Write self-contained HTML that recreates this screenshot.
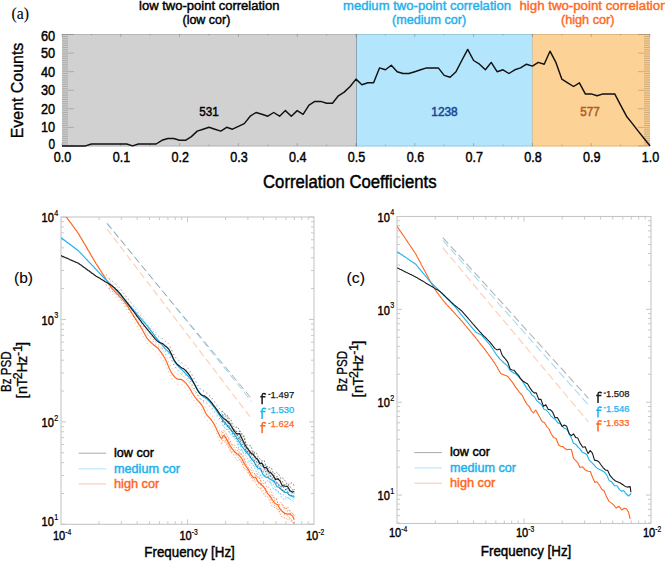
<!DOCTYPE html>
<html><head><meta charset="utf-8"><style>
html,body{margin:0;padding:0;background:#fff;overflow:hidden;}
svg{display:block;}
text{font-family:"Liberation Sans",sans-serif;}
</style></head><body>
<svg width="665" height="561" viewBox="0 0 665 561">
<rect x="62" y="34" width="294" height="112.6" fill="#d1d1d1"/>
<rect x="356" y="34" width="176.4" height="112.6" fill="#b3e5fc"/>
<rect x="532.4" y="34" width="117.6" height="112.6" fill="#fdd296"/>
<line x1="356.5" y1="34" x2="356.5" y2="146.6" stroke="#8ba3af" stroke-width="1"/>
<line x1="532.4" y1="34" x2="532.4" y2="146.6" stroke="#c9c2a8" stroke-width="1"/>
<line x1="62" y1="34.5" x2="650" y2="34.5" stroke="#000" stroke-opacity="0.12" stroke-width="1"/>
<line x1="62" y1="146" x2="650" y2="146" stroke="#000" stroke-opacity="0.12" stroke-width="1"/>
<path d="M62,145.90h12 M650,145.90h-12 M62,144.04h6 M650,144.04h-6 M62,142.19h6 M650,142.19h-6 M62,140.33h6 M650,140.33h-6 M62,138.48h6 M650,138.48h-6 M62,136.62h6 M650,136.62h-6 M62,134.76h6 M650,134.76h-6 M62,132.91h6 M650,132.91h-6 M62,131.05h6 M650,131.05h-6 M62,129.20h6 M650,129.20h-6 M62,127.34h12 M650,127.34h-12 M62,125.48h6 M650,125.48h-6 M62,123.63h6 M650,123.63h-6 M62,121.77h6 M650,121.77h-6 M62,119.92h6 M650,119.92h-6 M62,118.06h6 M650,118.06h-6 M62,116.20h6 M650,116.20h-6 M62,114.35h6 M650,114.35h-6 M62,112.49h6 M650,112.49h-6 M62,110.64h6 M650,110.64h-6 M62,108.78h12 M650,108.78h-12 M62,106.92h6 M650,106.92h-6 M62,105.07h6 M650,105.07h-6 M62,103.21h6 M650,103.21h-6 M62,101.36h6 M650,101.36h-6 M62,99.50h6 M650,99.50h-6 M62,97.64h6 M650,97.64h-6 M62,95.79h6 M650,95.79h-6 M62,93.93h6 M650,93.93h-6 M62,92.08h6 M650,92.08h-6 M62,90.22h12 M650,90.22h-12 M62,88.36h6 M650,88.36h-6 M62,86.51h6 M650,86.51h-6 M62,84.65h6 M650,84.65h-6 M62,82.80h6 M650,82.80h-6 M62,80.94h6 M650,80.94h-6 M62,79.08h6 M650,79.08h-6 M62,77.23h6 M650,77.23h-6 M62,75.37h6 M650,75.37h-6 M62,73.52h6 M650,73.52h-6 M62,71.66h12 M650,71.66h-12 M62,69.80h6 M650,69.80h-6 M62,67.95h6 M650,67.95h-6 M62,66.09h6 M650,66.09h-6 M62,64.24h6 M650,64.24h-6 M62,62.38h6 M650,62.38h-6 M62,60.52h6 M650,60.52h-6 M62,58.67h6 M650,58.67h-6 M62,56.81h6 M650,56.81h-6 M62,54.96h6 M650,54.96h-6 M62,53.10h12 M650,53.10h-12 M62,51.24h6 M650,51.24h-6 M62,49.39h6 M650,49.39h-6 M62,47.53h6 M650,47.53h-6 M62,45.68h6 M650,45.68h-6 M62,43.82h6 M650,43.82h-6 M62,41.96h6 M650,41.96h-6 M62,40.11h6 M650,40.11h-6 M62,38.25h6 M650,38.25h-6 M62,36.40h6 M650,36.40h-6 M62,34.54h12 M650,34.54h-12" stroke="#000" stroke-opacity="0.2" stroke-width="0.9" fill="none"/>
<path d="M62.00,34h0v3 M62.00,146v-3 M91.40,34h0v1.5 M91.40,146v-1.5 M120.80,34h0v3 M120.80,146v-3 M150.20,34h0v1.5 M150.20,146v-1.5 M179.60,34h0v3 M179.60,146v-3 M209.00,34h0v1.5 M209.00,146v-1.5 M238.40,34h0v3 M238.40,146v-3 M267.80,34h0v1.5 M267.80,146v-1.5 M297.20,34h0v3 M297.20,146v-3 M326.60,34h0v1.5 M326.60,146v-1.5 M356.00,34h0v3 M356.00,146v-3 M385.40,34h0v1.5 M385.40,146v-1.5 M414.80,34h0v3 M414.80,146v-3 M444.20,34h0v1.5 M444.20,146v-1.5 M473.60,34h0v3 M473.60,146v-3 M503.00,34h0v1.5 M503.00,146v-1.5 M532.40,34h0v3 M532.40,146v-3 M561.80,34h0v1.5 M561.80,146v-1.5 M591.20,34h0v3 M591.20,146v-3 M620.60,34h0v1.5 M620.60,146v-1.5 M650.00,34h0v3 M650.00,146v-3" stroke="#000" stroke-opacity="0.2" stroke-width="1" fill="none"/>
<path d="M62.0,145.9 L67.9,145.9 L73.8,145.9 L79.6,145.9 L85.5,145.9 L91.4,144.0 L97.3,144.0 L103.2,144.0 L109.0,144.0 L114.9,144.0 L120.8,144.0 L126.7,144.0 L132.6,145.9 L138.4,144.0 L144.3,144.0 L150.2,144.0 L156.1,144.0 L162.0,140.3 L167.8,138.5 L173.7,138.5 L179.6,140.3 L185.5,140.3 L191.4,136.6 L197.2,131.1 L203.1,129.2 L209.0,127.3 L214.9,129.2 L220.8,131.1 L226.6,127.3 L232.5,129.2 L238.4,126.4 L244.3,123.6 L250.2,116.2 L256.0,112.5 L261.9,114.3 L267.8,116.2 L273.7,112.5 L279.6,116.2 L285.4,110.6 L291.3,116.2 L297.2,110.6 L303.1,114.3 L309.0,105.1 L314.8,101.4 L320.7,101.4 L326.6,103.2 L332.5,103.2 L338.4,95.8 L344.2,92.1 L350.1,86.5 L356.0,79.1 L361.9,84.7 L367.8,82.8 L373.6,82.8 L379.5,67.9 L385.4,69.8 L391.3,65.2 L397.2,71.7 L403.0,73.5 L408.9,73.5 L414.8,71.7 L420.7,69.8 L426.6,67.9 L432.4,67.9 L438.3,67.9 L444.2,75.4 L450.1,77.2 L456.0,71.7 L461.8,60.5 L467.7,49.4 L473.6,60.5 L479.5,64.2 L485.4,69.8 L491.2,62.4 L497.1,71.7 L503.0,69.8 L508.9,73.5 L514.8,69.8 L520.6,67.9 L526.5,64.2 L532.4,66.1 L538.3,62.4 L544.2,64.2 L550.0,51.2 L555.9,62.4 L561.8,79.1 L567.7,82.8 L573.6,86.5 L579.4,82.8 L585.3,93.9 L591.2,93.9 L597.1,95.8 L603.0,93.9 L608.8,93.9 L614.7,93.9 L620.6,105.1 L626.5,116.2 L632.4,123.6 L638.2,131.1 L644.1,138.5 L650.0,145.9" fill="none" stroke="#111" stroke-width="1.45" stroke-linejoin="round"/>
<text x="11.5" y="18.5" font-size="16" fill="#000" stroke="#000" stroke-width="0.1" textLength="17.5" lengthAdjust="spacingAndGlyphs" style="font-family:'Liberation Serif', serif;">(a)</text>
<text x="139" y="9.6" font-size="13.2" fill="#000" stroke="#000" stroke-width="0.45" textLength="140.5" lengthAdjust="spacingAndGlyphs" style="">low two-point correlation</text>
<text x="182.5" y="23.6" font-size="13.2" fill="#000" stroke="#000" stroke-width="0.45" textLength="47.8" lengthAdjust="spacingAndGlyphs" style="">(low cor)</text>
<text x="343" y="9.6" font-size="13.2" fill="#1fb1ee" stroke="#1fb1ee" stroke-width="0.45" textLength="168" lengthAdjust="spacingAndGlyphs" style="">medium two-point correlation</text>
<text x="392" y="23.6" font-size="13.2" fill="#1fb1ee" stroke="#1fb1ee" stroke-width="0.45" textLength="74.2" lengthAdjust="spacingAndGlyphs" style="">(medium cor)</text>
<text x="519.5" y="9.6" font-size="13.2" fill="#ff6a1f" stroke="#ff6a1f" stroke-width="0.45" textLength="148" lengthAdjust="spacingAndGlyphs" style="">high two-point correlation</text>
<text x="561" y="23.6" font-size="13.2" fill="#ff6a1f" stroke="#ff6a1f" stroke-width="0.45" textLength="53.5" lengthAdjust="spacingAndGlyphs" style="">(high cor)</text>
<text x="55.2" y="148.9" font-size="14.4" fill="#000" stroke="#000" stroke-width="0.45" textLength="6.6" lengthAdjust="spacingAndGlyphs" text-anchor="end" style="">0</text>
<text x="55.2" y="132.24" font-size="14.4" fill="#000" stroke="#000" stroke-width="0.45" textLength="14.2" lengthAdjust="spacingAndGlyphs" text-anchor="end" style="">10</text>
<text x="55.2" y="113.68" font-size="14.4" fill="#000" stroke="#000" stroke-width="0.45" textLength="14.2" lengthAdjust="spacingAndGlyphs" text-anchor="end" style="">20</text>
<text x="55.2" y="95.12" font-size="14.4" fill="#000" stroke="#000" stroke-width="0.45" textLength="14.2" lengthAdjust="spacingAndGlyphs" text-anchor="end" style="">30</text>
<text x="55.2" y="76.56" font-size="14.4" fill="#000" stroke="#000" stroke-width="0.45" textLength="14.2" lengthAdjust="spacingAndGlyphs" text-anchor="end" style="">40</text>
<text x="55.2" y="57.99999999999999" font-size="14.4" fill="#000" stroke="#000" stroke-width="0.45" textLength="14.2" lengthAdjust="spacingAndGlyphs" text-anchor="end" style="">50</text>
<text x="55.2" y="41.199999999999996" font-size="14.4" fill="#000" stroke="#000" stroke-width="0.45" textLength="14.2" lengthAdjust="spacingAndGlyphs" text-anchor="end" style="">60</text>
<text x="62.6" y="161.6" font-size="15.2" fill="#000" stroke="#000" stroke-width="0.45" textLength="17.5" lengthAdjust="spacingAndGlyphs" text-anchor="middle" style="">0.0</text>
<text x="121.4" y="161.6" font-size="15.2" fill="#000" stroke="#000" stroke-width="0.45" textLength="17.5" lengthAdjust="spacingAndGlyphs" text-anchor="middle" style="">0.1</text>
<text x="180.20000000000002" y="161.6" font-size="15.2" fill="#000" stroke="#000" stroke-width="0.45" textLength="17.5" lengthAdjust="spacingAndGlyphs" text-anchor="middle" style="">0.2</text>
<text x="239.0" y="161.6" font-size="15.2" fill="#000" stroke="#000" stroke-width="0.45" textLength="17.5" lengthAdjust="spacingAndGlyphs" text-anchor="middle" style="">0.3</text>
<text x="297.80000000000007" y="161.6" font-size="15.2" fill="#000" stroke="#000" stroke-width="0.45" textLength="17.5" lengthAdjust="spacingAndGlyphs" text-anchor="middle" style="">0.4</text>
<text x="356.6" y="161.6" font-size="15.2" fill="#000" stroke="#000" stroke-width="0.45" textLength="17.5" lengthAdjust="spacingAndGlyphs" text-anchor="middle" style="">0.5</text>
<text x="415.40000000000003" y="161.6" font-size="15.2" fill="#000" stroke="#000" stroke-width="0.45" textLength="17.5" lengthAdjust="spacingAndGlyphs" text-anchor="middle" style="">0.6</text>
<text x="474.2" y="161.6" font-size="15.2" fill="#000" stroke="#000" stroke-width="0.45" textLength="17.5" lengthAdjust="spacingAndGlyphs" text-anchor="middle" style="">0.7</text>
<text x="533.0000000000001" y="161.6" font-size="15.2" fill="#000" stroke="#000" stroke-width="0.45" textLength="17.5" lengthAdjust="spacingAndGlyphs" text-anchor="middle" style="">0.8</text>
<text x="591.8000000000001" y="161.6" font-size="15.2" fill="#000" stroke="#000" stroke-width="0.45" textLength="17.5" lengthAdjust="spacingAndGlyphs" text-anchor="middle" style="">0.9</text>
<text x="650.6" y="161.6" font-size="15.2" fill="#000" stroke="#000" stroke-width="0.45" textLength="17.5" lengthAdjust="spacingAndGlyphs" text-anchor="middle" style="">1.0</text>
<text x="263" y="188.2" font-size="17.5" fill="#000" stroke="#000" stroke-width="0.45" textLength="173.5" lengthAdjust="spacingAndGlyphs" style="">Correlation Coefficients</text>
<text x="0" y="0" font-size="17.4" fill="#000" stroke="#000" stroke-width="0.35" textLength="95.6" lengthAdjust="spacingAndGlyphs" transform="translate(23.0,138.3) rotate(-90)">Event Counts</text>
<text x="199.3" y="116.2" font-size="12.8" fill="#000" stroke="#000" stroke-width="0.45" textLength="19.5" lengthAdjust="spacingAndGlyphs" style="">531</text>
<text x="431.3" y="115.8" font-size="13.2" fill="#184892" stroke="#184892" stroke-width="0.55" textLength="26.4" lengthAdjust="spacingAndGlyphs" style="">1238</text>
<text x="580.3" y="115.8" font-size="13" fill="#ad5a26" stroke="#ad5a26" stroke-width="0.5" textLength="19.6" lengthAdjust="spacingAndGlyphs" style="">577</text>
<clipPath id="clipb"><rect x="61" y="217" width="253" height="307.29999999999995"/></clipPath>
<rect x="61" y="217" width="253" height="307.29999999999995" fill="none" stroke="#c6c6c6" stroke-width="1.1"/>
<path d="M99.08,524.3v-3M99.08,217v3M121.36,524.3v-3M121.36,217v3M137.16,524.3v-3M137.16,217v3M149.42,524.3v-3M149.42,217v3M159.44,524.3v-3M159.44,217v3M167.90,524.3v-3M167.90,217v3M175.24,524.3v-3M175.24,217v3M181.71,524.3v-3M181.71,217v3M187.50,524.3v-5M187.50,217v5M225.58,524.3v-3M225.58,217v3M247.86,524.3v-3M247.86,217v3M263.66,524.3v-3M263.66,217v3M275.92,524.3v-3M275.92,217v3M285.94,524.3v-3M285.94,217v3M294.40,524.3v-3M294.40,217v3M301.74,524.3v-3M301.74,217v3M308.21,524.3v-3M308.21,217v3M61,524.30h5M314,524.30h-5M61,493.46h3M314,493.46h-3M61,475.43h3M314,475.43h-3M61,462.63h3M314,462.63h-3M61,452.70h3M314,452.70h-3M61,444.59h3M314,444.59h-3M61,437.73h3M314,437.73h-3M61,431.79h3M314,431.79h-3M61,426.55h3M314,426.55h-3M61,421.87h5M314,421.87h-5M61,391.03h3M314,391.03h-3M61,372.99h3M314,372.99h-3M61,360.20h3M314,360.20h-3M61,350.27h3M314,350.27h-3M61,342.16h3M314,342.16h-3M61,335.30h3M314,335.30h-3M61,329.36h3M314,329.36h-3M61,324.12h3M314,324.12h-3M61,319.43h5M314,319.43h-5M61,288.60h3M314,288.60h-3M61,270.56h3M314,270.56h-3M61,257.76h3M314,257.76h-3M61,247.84h3M314,247.84h-3M61,239.72h3M314,239.72h-3M61,232.87h3M314,232.87h-3M61,226.93h3M314,226.93h-3M61,221.69h3M314,221.69h-3M61,217.00h5M314,217.00h-5" stroke="#c8c8c8" stroke-width="1" fill="none"/>
<text x="41.6" y="525.9" font-size="13.7" fill="#000" stroke="#000" stroke-width="0.45" textLength="12.3" lengthAdjust="spacingAndGlyphs" style="">10</text>
<text x="54.3" y="519.4999999999999" font-size="8.5" fill="#000" stroke="#000" stroke-width="0.2" textLength="4.0" lengthAdjust="spacingAndGlyphs" style="">1</text>
<text x="41.6" y="427.0666666666666" font-size="13.7" fill="#000" stroke="#000" stroke-width="0.45" textLength="12.3" lengthAdjust="spacingAndGlyphs" style="">10</text>
<text x="54.3" y="420.66666666666663" font-size="8.5" fill="#000" stroke="#000" stroke-width="0.2" textLength="4.0" lengthAdjust="spacingAndGlyphs" style="">2</text>
<text x="41.6" y="324.63333333333327" font-size="13.7" fill="#000" stroke="#000" stroke-width="0.45" textLength="12.3" lengthAdjust="spacingAndGlyphs" style="">10</text>
<text x="54.3" y="318.2333333333333" font-size="8.5" fill="#000" stroke="#000" stroke-width="0.2" textLength="4.0" lengthAdjust="spacingAndGlyphs" style="">3</text>
<text x="41.6" y="222.2" font-size="13.7" fill="#000" stroke="#000" stroke-width="0.45" textLength="12.3" lengthAdjust="spacingAndGlyphs" style="">10</text>
<text x="54.3" y="215.8" font-size="8.5" fill="#000" stroke="#000" stroke-width="0.2" textLength="4.0" lengthAdjust="spacingAndGlyphs" style="">4</text>
<text x="52.9" y="540.2" font-size="13.7" fill="#000" stroke="#000" stroke-width="0.45" textLength="12.3" lengthAdjust="spacingAndGlyphs" style="">10</text>
<text x="65.3" y="535.0" font-size="8.5" fill="#000" stroke="#000" stroke-width="0.2" textLength="6" lengthAdjust="spacingAndGlyphs" style="">-4</text>
<text x="179.4" y="540.2" font-size="13.7" fill="#000" stroke="#000" stroke-width="0.45" textLength="12.3" lengthAdjust="spacingAndGlyphs" style="">10</text>
<text x="191.8" y="535.0" font-size="8.5" fill="#000" stroke="#000" stroke-width="0.2" textLength="6" lengthAdjust="spacingAndGlyphs" style="">-3</text>
<text x="305.9" y="540.2" font-size="13.7" fill="#000" stroke="#000" stroke-width="0.45" textLength="12.3" lengthAdjust="spacingAndGlyphs" style="">10</text>
<text x="318.3" y="535.0" font-size="8.5" fill="#000" stroke="#000" stroke-width="0.2" textLength="6" lengthAdjust="spacingAndGlyphs" style="">-2</text>
<text x="144.3" y="557.2" font-size="14.5" fill="#000" stroke="#000" stroke-width="0.45" textLength="90.5" lengthAdjust="spacingAndGlyphs" style="">Frequency [Hz]</text>
<g clip-path="url(#clipb)">
<path d="M107.0,229.0 L251.7,419.0" fill="none" stroke="#fdcdb4" stroke-width="1.1" stroke-dasharray="7.1,3.8"/>
<path d="M107.0,222.6 L251.7,401.6" fill="none" stroke="#8fd0ee" stroke-width="0.95" stroke-dasharray="7.1,3.8"/>
<path d="M107.0,223.7 L251.7,398.9" fill="none" stroke="#9aa6ac" stroke-width="0.95" stroke-dasharray="7.1,3.8"/>
<path d="M106.1,274.3 L106.7,275.3 L107.2,276.3 L107.8,277.3 L108.3,278.2 L108.9,279.2 L109.4,280.2 L110.0,281.2 L110.5,281.7 L111.0,282.3 L111.5,283.0 L112.1,283.6 L112.8,284.3 L113.5,285.0 L114.2,285.7 L114.9,286.5 L115.7,287.3 L116.4,288.1 L117.2,288.9 L118.0,289.7 L118.8,290.5 L119.5,291.3 L120.3,292.1 L121.1,292.9 L121.8,293.7 L122.5,294.5 L123.2,295.2 L123.8,296.0 L124.4,296.7 L125.0,297.4 L125.7,298.3 L126.4,299.2 L127.0,300.1 L127.6,301.0 L128.2,301.9 L128.7,302.8 L129.2,303.6 L129.7,304.5 L130.2,305.3 L130.7,306.1 L131.2,307.0 L131.7,307.8 L132.2,308.7 L132.7,309.5 L133.2,310.3 L133.7,311.2 L134.3,312.1 L134.8,313.0 L135.4,313.8 L136.0,314.7 L136.5,315.7 L137.1,316.6 L137.7,317.5 L138.3,318.4 L138.8,319.3 L139.4,320.1 L140.0,321.0 L140.5,321.8 L141.0,322.6 L141.5,323.4 L142.0,324.2 L142.4,324.9 L143.0,326.0 L143.6,327.0 L144.1,328.0 L144.6,328.9 L145.1,329.7 L145.5,330.5 L145.9,331.3 L146.4,332.1 L146.9,332.9 L147.4,333.6 L148.1,334.5 L148.9,335.4 L149.7,336.2 L150.5,337.0 L151.3,337.7 L152.1,338.4 L152.9,339.1 L153.6,339.8 L154.5,340.6 L155.3,341.2 L156.1,341.8 L156.9,342.4 L157.7,343.2 L158.6,344.2 L159.1,344.8 L159.7,345.5 L160.3,346.3 L160.9,347.1 L161.5,347.9 L162.1,348.8 L162.7,349.7 L163.3,350.6 L163.9,351.5 L164.4,352.5 L165.0,353.5 L165.4,354.3 L165.9,355.2 L166.3,356.1 L166.7,357.1 L167.1,358.0 L167.5,359.0 L167.9,360.0 L168.3,361.0 L168.7,362.0 L169.1,362.9 L169.5,363.9 L169.9,364.7 L170.3,365.5 L170.7,366.3 L171.3,367.4 L172.0,368.4 L172.6,369.3 L173.2,370.2 L173.9,371.0 L174.5,371.7 L175.1,372.4 L175.8,373.0 L176.4,373.5 L177.5,374.1 L178.7,374.3 L179.8,374.3 L181.0,374.4 L182.1,374.9 L182.8,375.4 L183.5,375.9 L184.2,376.5 L184.9,377.1 L185.6,377.9 L186.3,378.7 L187.0,379.6 L187.8,380.6 L188.3,381.3 L188.8,382.1 L189.3,382.9 L189.9,383.8 L190.4,384.7 L191.0,385.6 L191.5,386.6 L192.1,387.6 L192.7,388.5 L193.2,389.5 L193.8,390.3 L194.4,391.2 L194.9,392.0 L195.6,392.9 L196.2,393.7 L196.9,394.5 L197.6,395.3 L198.3,396.1 L199.0,396.8 L199.6,397.5 L200.3,398.3 L200.9,399.0 L201.5,399.7 L202.0,400.5 L202.6,401.5 L203.1,402.5 L203.6,403.5 L204.1,404.5 L204.5,405.5 L205.0,406.5 L205.4,407.4 L205.8,408.3 L206.3,409.1 L207.0,410.1 L207.7,411.0 L208.5,411.8 L209.2,412.5 L209.9,413.2 L210.6,414.1 L211.2,414.9 L211.7,415.6 L212.3,416.3 L212.8,417.1 L213.4,418.0 L214.0,419.1 L214.7,420.3 L215.1,421.0 L215.5,421.9 L216.0,422.9 L216.5,423.9 L216.9,425.0 L217.4,426.1 L218.0,427.2 L218.5,428.3 L219.0,429.4 L219.4,430.4 L219.9,431.2 L220.3,432.0 L220.7,432.6 L221.1,433.1 L222.0,433.2 L222.6,431.9 L223.3,430.6 L224.3,430.7 L224.7,431.2 L225.2,431.8 L225.7,432.6 L226.3,433.4 L226.8,434.4 L227.5,435.5 L228.1,436.6 L228.7,437.7 L229.3,438.8 L229.9,439.9 L230.5,440.9 L231.0,441.9 L231.4,442.7 L231.8,443.4 L232.1,443.9 L232.1,443.9" fill="none" stroke="#ff6a28" stroke-width="0.9" stroke-dasharray="1,3" stroke-opacity="0.6"/>
<path d="M106.1,284.3 L106.7,285.3 L107.2,286.3 L107.8,287.3 L108.3,288.2 L108.9,289.2 L109.4,290.2 L110.0,291.2 L110.5,291.7 L111.0,292.3 L111.5,293.0 L112.1,293.6 L112.8,294.3 L113.5,295.0 L114.2,295.7 L114.9,296.5 L115.7,297.3 L116.4,298.1 L117.2,298.9 L118.0,299.7 L118.8,300.5 L119.5,301.3 L120.3,302.1 L121.1,302.9 L121.8,303.7 L122.5,304.5 L123.2,305.2 L123.8,306.0 L124.4,306.7 L125.0,307.4 L125.7,308.3 L126.4,309.2 L127.0,310.1 L127.6,311.0 L128.2,311.9 L128.7,312.8 L129.2,313.6 L129.7,314.5 L130.2,315.3 L130.7,316.1 L131.2,317.0 L131.7,317.8 L132.2,318.7 L132.7,319.5 L133.2,320.3 L133.7,321.2 L134.3,322.1 L134.8,323.0 L135.4,323.8 L136.0,324.7 L136.5,325.7 L137.1,326.6 L137.7,327.5 L138.3,328.4 L138.8,329.3 L139.4,330.1 L140.0,331.0 L140.5,331.8 L141.0,332.6 L141.5,333.4 L142.0,334.2 L142.4,334.9 L143.0,336.0 L143.6,337.0 L144.1,338.0 L144.6,338.9 L145.1,339.7 L145.5,340.5 L145.9,341.3 L146.4,342.1 L146.9,342.9 L147.4,343.6 L148.1,344.5 L148.9,345.4 L149.7,346.2 L150.5,347.0 L151.3,347.7 L152.1,348.4 L152.9,349.1 L153.6,349.8 L154.5,350.6 L155.3,351.2 L156.1,351.8 L156.9,352.4 L157.7,353.2 L158.6,354.2 L159.1,354.8 L159.7,355.5 L160.3,356.3 L160.9,357.1 L161.5,357.9 L162.1,358.8 L162.7,359.7 L163.3,360.6 L163.9,361.5 L164.4,362.5 L165.0,363.5 L165.4,364.3 L165.9,365.2 L166.3,366.1 L166.7,367.1 L167.1,368.0 L167.5,369.0 L167.9,370.0 L168.3,371.0 L168.7,372.0 L169.1,372.9 L169.5,373.9 L169.9,374.7 L170.3,375.5 L170.7,376.3 L171.3,377.4 L172.0,378.4 L172.6,379.3 L173.2,380.2 L173.9,381.0 L174.5,381.7 L175.1,382.4 L175.8,383.0 L176.4,383.5 L177.5,384.1 L178.7,384.3 L179.8,384.3 L181.0,384.4 L182.1,384.9 L182.8,385.4 L183.5,385.9 L184.2,386.5 L184.9,387.1 L185.6,387.9 L186.3,388.7 L187.0,389.6 L187.8,390.6 L188.3,391.3 L188.8,392.1 L189.3,392.9 L189.9,393.8 L190.4,394.7 L191.0,395.6 L191.5,396.6 L192.1,397.6 L192.7,398.5 L193.2,399.5 L193.8,400.3 L194.4,401.2 L194.9,402.0 L195.6,402.9 L196.2,403.7 L196.9,404.5 L197.6,405.3 L198.3,406.1 L199.0,406.8 L199.6,407.5 L200.3,408.3 L200.9,409.0 L201.5,409.7 L202.0,410.5 L202.6,411.5 L203.1,412.5 L203.6,413.5 L204.1,414.5 L204.5,415.5 L205.0,416.5 L205.4,417.4 L205.8,418.3 L206.3,419.1 L207.0,420.1 L207.7,421.0 L208.5,421.8 L209.2,422.5 L209.9,423.2 L210.6,424.1 L211.2,424.9 L211.7,425.6 L212.3,426.3 L212.8,427.1 L213.4,428.0 L214.0,429.1 L214.7,430.3 L215.1,431.0 L215.5,431.9 L216.0,432.9 L216.5,433.9 L216.9,435.0 L217.4,436.1 L218.0,437.2 L218.5,438.3 L219.0,439.4 L219.4,440.4 L219.9,441.2 L220.3,442.0 L220.7,442.6 L221.1,443.1 L222.0,443.2 L222.6,441.9 L223.3,440.6 L224.3,440.7 L224.7,441.2 L225.2,441.8 L225.7,442.6 L226.3,443.4 L226.8,444.4 L227.5,445.5 L228.1,446.6 L228.7,447.7 L229.3,448.8 L229.9,449.9 L230.5,450.9 L231.0,451.9 L231.4,452.7 L231.8,453.4 L232.1,453.9 L232.1,453.9" fill="none" stroke="#ff6a28" stroke-width="0.9" stroke-dasharray="1,3" stroke-opacity="0.6"/>
<path d="M221.1,432.3 L223.1,430.1 L224.7,431.9 L226.0,433.8 L227.6,436.9 L229.3,439.1 L231.0,443.4 L232.9,445.0 L234.5,444.8 L236.1,447.6 L237.7,447.1 L239.3,452.5 L240.6,454.3 L242.2,454.0 L243.8,456.6 L245.4,461.9 L247.0,461.4 L249.0,464.0 L250.9,466.6 L252.8,469.8 L254.3,472.8 L255.7,476.1 L257.2,473.4 L258.6,478.8 L260.0,478.2 L261.3,481.7 L263.2,483.8 L265.0,482.7 L266.8,487.7 L268.6,487.3 L270.0,488.4 L271.8,492.9 L273.7,497.6 L275.0,498.2 L276.4,497.8 L277.8,502.8 L279.3,504.7 L280.9,502.3 L282.4,504.6 L283.9,506.7 L285.8,509.6 L287.6,506.6 L289.2,510.2 L290.9,513.8 L292.5,513.5 L293.9,515.5 L294.3,514.8" fill="none" stroke="#ff6a28" stroke-width="0.8" stroke-dasharray="1.6,1.6" stroke-opacity="0.75"/>
<path d="M221.1,435.8 L223.1,432.0 L224.7,434.9 L226.0,437.0 L227.6,438.6 L229.3,442.4 L231.0,443.8 L232.9,446.3 L234.5,448.1 L236.1,451.1 L237.7,450.3 L239.3,455.2 L240.6,452.6 L242.2,455.8 L243.8,458.0 L245.4,464.4 L247.0,464.8 L249.0,468.1 L250.9,469.8 L252.8,473.8 L254.3,474.1 L255.7,474.5 L257.2,477.1 L258.6,477.8 L260.0,478.3 L261.3,483.8 L263.2,485.5 L265.0,487.9 L266.8,491.5 L268.6,491.2 L270.0,492.9 L271.8,495.6 L273.7,498.1 L275.0,501.3 L276.4,499.3 L277.8,503.3 L279.3,505.1 L280.9,505.4 L282.4,504.8 L283.9,509.6 L285.8,507.2 L287.6,511.5 L289.2,510.5 L290.9,511.3 L292.5,513.7 L293.9,514.5 L294.3,517.3" fill="none" stroke="#ff6a28" stroke-width="0.8" stroke-dasharray="1.6,1.6" stroke-opacity="0.75"/>
<path d="M221.1,439.8 L223.1,438.0 L224.7,437.8 L226.0,441.4 L227.6,444.0 L229.3,446.5 L231.0,450.2 L232.9,452.6 L234.5,452.1 L236.1,455.4 L237.7,457.1 L239.3,458.1 L240.6,461.5 L242.2,463.5 L243.8,464.5 L245.4,466.4 L247.0,468.5 L249.0,474.9 L250.9,476.8 L252.8,478.7 L254.3,479.3 L255.7,481.1 L257.2,480.9 L258.6,484.0 L260.0,483.5 L261.3,487.7 L263.2,490.3 L265.0,492.9 L266.8,493.1 L268.6,494.6 L270.0,497.7 L271.8,502.0 L273.7,503.7 L275.0,506.7 L276.4,506.6 L277.8,507.9 L279.3,512.1 L280.9,509.4 L282.4,510.8 L283.9,514.0 L285.8,515.6 L287.6,515.8 L289.2,517.7 L290.9,518.5 L292.5,521.3 L293.9,523.9 L294.3,522.3" fill="none" stroke="#ff6a28" stroke-width="0.8" stroke-dasharray="1.6,1.6" stroke-opacity="0.75"/>
<path d="M221.1,444.1 L223.1,440.2 L224.7,441.7 L226.0,443.9 L227.6,445.3 L229.3,448.0 L231.0,452.7 L232.9,453.4 L234.5,456.0 L236.1,459.4 L237.7,460.7 L239.3,458.8 L240.6,460.2 L242.2,463.4 L243.8,469.4 L245.4,467.8 L247.0,471.6 L249.0,473.6 L250.9,476.3 L252.8,480.7 L254.3,480.5 L255.7,483.1 L257.2,486.2 L258.6,487.6 L260.0,487.4 L261.3,491.1 L263.2,492.5 L265.0,496.3 L266.8,495.6 L268.6,498.6 L270.0,501.5 L271.8,505.9 L273.7,506.8 L275.0,507.8 L276.4,508.1 L277.8,509.8 L279.3,510.9 L280.9,516.3 L282.4,516.9 L283.9,518.1 L285.8,517.5 L287.6,519.8 L289.2,518.8 L290.9,521.2 L292.5,521.0 L293.9,523.9 L294.3,524.8" fill="none" stroke="#ff6a28" stroke-width="0.8" stroke-dasharray="1.6,1.6" stroke-opacity="0.75"/>
<path d="M61.0,209.7 L61.6,210.5 L62.2,211.3 L62.8,212.2 L63.4,213.0 L64.0,213.8 L64.6,214.6 L65.2,215.5 L65.8,216.3 L66.4,217.1 L67.0,217.9 L67.6,218.8 L68.2,219.6 L68.8,220.4 L69.4,221.2 L70.1,222.1 L70.7,222.9 L71.3,223.7 L71.9,224.5 L72.5,225.4 L73.1,226.2 L73.7,227.0 L74.3,227.8 L74.9,228.7 L75.5,229.5 L76.1,230.3 L76.7,231.1 L77.3,232.0 L77.9,232.8 L78.5,233.6 L79.0,234.5 L79.5,235.4 L80.0,236.2 L80.5,237.1 L81.1,238.0 L81.6,238.9 L82.1,239.7 L82.6,240.6 L83.1,241.5 L83.6,242.4 L84.1,243.3 L84.7,244.1 L85.2,245.0 L85.7,245.9 L86.2,246.8 L86.7,247.6 L87.2,248.5 L87.7,249.4 L88.2,250.3 L88.8,251.2 L89.3,252.0 L89.8,252.9 L90.3,253.8 L90.8,254.7 L91.3,255.6 L91.8,256.4 L92.3,257.3 L92.9,258.2 L93.4,259.1 L93.9,259.9 L94.4,260.8 L94.9,261.7 L95.5,262.6 L96.0,263.5 L96.6,264.3 L97.1,265.2 L97.7,266.1 L98.3,267.0 L98.8,267.9 L99.4,268.7 L99.9,269.6 L100.5,270.5 L101.1,271.4 L101.6,272.3 L102.2,273.1 L102.7,274.0 L103.3,274.9 L103.9,275.8 L104.4,276.7 L105.0,277.5 L105.5,278.4 L106.1,279.3 L106.7,280.3 L107.2,281.3 L107.8,282.3 L108.3,283.2 L108.9,284.2 L109.4,285.2 L110.0,286.2 L110.5,286.7 L111.0,287.3 L111.5,288.0 L112.1,288.6 L112.8,289.3 L113.5,290.0 L114.2,290.7 L114.9,291.5 L115.7,292.3 L116.4,293.1 L117.2,293.9 L118.0,294.7 L118.8,295.5 L119.5,296.3 L120.3,297.1 L121.1,297.9 L121.8,298.7 L122.5,299.5 L123.2,300.2 L123.8,301.0 L124.4,301.7 L125.0,302.4 L125.7,303.3 L126.4,304.2 L127.0,305.1 L127.6,306.0 L128.2,306.9 L128.7,307.8 L129.2,308.6 L129.7,309.5 L130.2,310.3 L130.7,311.1 L131.2,312.0 L131.7,312.8 L132.2,313.7 L132.7,314.5 L133.2,315.3 L133.7,316.2 L134.3,317.1 L134.8,318.0 L135.4,318.8 L136.0,319.7 L136.5,320.7 L137.1,321.6 L137.7,322.5 L138.3,323.4 L138.8,324.3 L139.4,325.1 L140.0,326.0 L140.5,326.8 L141.0,327.6 L141.5,328.4 L142.0,329.2 L142.4,329.9 L143.0,331.0 L143.6,332.0 L144.1,333.0 L144.6,333.9 L145.1,334.7 L145.5,335.5 L145.9,336.3 L146.4,337.1 L146.9,337.9 L147.4,338.6 L148.1,339.5 L148.9,340.4 L149.7,341.2 L150.5,342.0 L151.3,342.7 L152.1,343.4 L152.9,344.1 L153.6,344.8 L154.5,345.6 L155.3,346.2 L156.1,346.8 L156.9,347.4 L157.7,348.2 L158.6,349.2 L159.1,349.8 L159.7,350.5 L160.3,351.3 L160.9,352.1 L161.5,352.9 L162.1,353.8 L162.7,354.7 L163.3,355.6 L163.9,356.5 L164.4,357.5 L165.0,358.5 L165.4,359.3 L165.9,360.2 L166.3,361.1 L166.7,362.1 L167.1,363.0 L167.5,364.0 L167.9,365.0 L168.3,366.0 L168.7,367.0 L169.1,367.9 L169.5,368.9 L169.9,369.7 L170.3,370.5 L170.7,371.3 L171.3,372.4 L172.0,373.4 L172.6,374.3 L173.2,375.2 L173.9,376.0 L174.5,376.7 L175.1,377.4 L175.8,378.0 L176.4,378.5 L177.5,379.1 L178.7,379.3 L179.8,379.3 L181.0,379.4 L182.1,379.9 L182.8,380.4 L183.5,380.9 L184.2,381.5 L184.9,382.1 L185.6,382.9 L186.3,383.7 L187.0,384.6 L187.8,385.6 L188.3,386.3 L188.8,387.1 L189.3,387.9 L189.9,388.8 L190.4,389.7 L191.0,390.6 L191.5,391.6 L192.1,392.6 L192.7,393.5 L193.2,394.5 L193.8,395.3 L194.4,396.2 L194.9,397.0 L195.6,397.9 L196.2,398.7 L196.9,399.5 L197.6,400.3 L198.3,401.1 L199.0,401.8 L199.6,402.5 L200.3,403.3 L200.9,404.0 L201.5,404.7 L202.0,405.5 L202.6,406.5 L203.1,407.5 L203.6,408.5 L204.1,409.5 L204.5,410.5 L205.0,411.5 L205.4,412.4 L205.8,413.3 L206.3,414.1 L207.0,415.1 L207.7,416.0 L208.5,416.8 L209.2,417.5 L209.9,418.2 L210.6,419.1 L211.2,419.9 L211.7,420.6 L212.3,421.3 L212.8,422.1 L213.4,423.0 L214.0,424.1 L214.7,425.3 L215.1,426.0 L215.5,426.9 L216.0,427.9 L216.5,428.9 L216.9,430.0 L217.4,431.1 L218.0,432.2 L218.5,433.3 L219.0,434.4 L219.4,435.4 L219.9,436.2 L220.3,437.0 L220.7,437.6 L221.1,438.1 L222.0,438.2 L222.6,436.9 L223.3,435.6 L224.3,435.7 L224.7,436.1 L225.1,436.7 L227.6,441.1 L229.9,445.4 L232.1,448.7 L234.5,451.7 L236.9,453.8 L239.3,455.7 L241.7,458.4 L243.8,462.7 L245.9,466.0 L248.3,469.4 L250.9,474.3 L253.5,477.7 L255.7,477.3 L257.9,481.7 L260.0,483.2 L262.6,485.8 L265.0,488.7 L267.4,493.3 L270.0,495.9 L272.4,500.0 L275.0,503.5 L277.8,504.7 L280.1,509.0 L282.4,511.6 L284.8,513.4 L287.6,514.1 L290.0,513.9 L292.5,516.1 L294.3,519.8" fill="none" stroke="#ff6620" stroke-width="1.2" stroke-linejoin="round"/>
<path d="M106.1,275.1 L106.9,275.8 L107.7,276.5 L108.4,277.3 L109.2,278.0 L110.0,278.7 L110.5,279.2 L110.9,279.7 L111.5,280.3 L112.1,280.9 L112.7,281.5 L113.3,282.2 L114.0,282.9 L114.6,283.6 L115.3,284.4 L116.1,285.2 L116.8,286.0 L117.6,286.8 L118.3,287.6 L119.1,288.5 L119.9,289.3 L120.6,290.1 L121.4,291.0 L122.1,291.8 L122.9,292.6 L123.6,293.4 L124.3,294.2 L125.0,295.0 L125.7,295.8 L126.4,296.6 L127.1,297.4 L127.8,298.2 L128.5,299.1 L129.3,299.9 L130.0,300.8 L130.7,301.6 L131.5,302.5 L132.2,303.3 L132.9,304.2 L133.6,305.0 L134.3,305.8 L135.0,306.7 L135.7,307.5 L136.4,308.3 L137.0,309.0 L137.6,309.8 L138.2,310.5 L138.8,311.1 L139.4,311.8 L139.9,312.4 L140.9,313.5 L141.7,314.5 L142.5,315.4 L143.2,316.1 L143.8,316.9 L144.4,317.5 L145.0,318.2 L145.6,318.9 L146.1,319.6 L146.7,320.3 L147.4,321.1 L148.0,321.9 L148.7,322.7 L149.3,323.6 L150.0,324.5 L150.7,325.4 L151.3,326.3 L152.0,327.1 L152.6,328.0 L153.2,328.8 L153.8,329.6 L154.4,330.4 L154.9,331.1 L155.7,332.2 L156.5,333.1 L157.2,334.0 L157.9,334.8 L158.5,335.6 L159.2,336.4 L159.9,337.3 L160.5,338.1 L161.2,338.9 L161.8,339.6 L162.4,340.4 L163.0,341.2 L163.7,342.0 L164.3,342.7 L165.0,343.5 L165.7,344.2 L166.4,344.9 L167.1,345.5 L167.8,346.1 L168.5,346.8 L169.3,347.5 L170.0,348.3 L170.7,349.2 L171.2,350.0 L171.7,350.8 L172.2,351.7 L172.7,352.6 L173.1,353.5 L173.6,354.5 L174.1,355.5 L174.6,356.5 L175.2,357.4 L175.8,358.3 L176.4,359.2 L177.0,360.0 L177.7,360.7 L178.3,361.4 L179.0,362.1 L179.7,362.8 L180.5,363.5 L181.2,364.2 L182.0,364.9 L182.7,365.6 L183.4,366.3 L184.2,367.0 L184.9,367.8 L185.6,368.5 L186.2,369.2 L186.9,370.0 L187.6,370.7 L188.3,371.4 L188.9,372.2 L189.6,373.0 L190.3,373.7 L191.0,374.5 L191.6,375.3 L192.3,376.1 L192.9,376.9 L193.5,377.7 L194.1,378.5 L194.7,379.4 L195.2,380.3 L195.8,381.3 L196.3,382.2 L196.9,383.2 L197.4,384.1 L197.9,385.1 L198.5,386.0 L199.0,386.8 L199.5,387.6 L200.1,388.4 L200.6,389.1 L201.4,390.0 L202.2,390.7 L203.0,391.3 L203.8,391.9 L204.5,392.4 L205.3,392.9 L206.1,393.4 L206.9,394.1 L207.7,394.8 L208.4,395.5 L209.0,396.2 L209.7,396.9 L210.3,397.6 L211.0,398.4 L211.6,399.2 L212.3,400.0 L212.9,400.8 L213.6,401.7 L214.2,402.5 L214.9,403.4 L215.5,404.2 L216.1,405.1 L216.7,406.0 L217.2,406.9 L217.8,407.8 L218.4,408.7 L219.0,409.6 L219.6,410.5 L220.2,411.5 L220.8,412.4 L221.4,413.2 L222.0,414.1 L222.7,415.0 L223.4,415.9 L224.1,416.8 L224.9,417.7 L225.7,418.6 L226.4,419.5 L227.2,420.4 L227.9,421.2 L228.5,421.9 L229.1,422.6 L229.6,423.1 L230.0,423.6 L230.0,423.6" fill="none" stroke="#1ab2ef" stroke-width="0.9" stroke-dasharray="1,3" stroke-opacity="0.6"/>
<path d="M106.1,285.1 L106.9,285.8 L107.7,286.5 L108.4,287.3 L109.2,288.0 L110.0,288.7 L110.5,289.2 L110.9,289.7 L111.5,290.3 L112.1,290.9 L112.7,291.5 L113.3,292.2 L114.0,292.9 L114.6,293.6 L115.3,294.4 L116.1,295.2 L116.8,296.0 L117.6,296.8 L118.3,297.6 L119.1,298.5 L119.9,299.3 L120.6,300.1 L121.4,301.0 L122.1,301.8 L122.9,302.6 L123.6,303.4 L124.3,304.2 L125.0,305.0 L125.7,305.8 L126.4,306.6 L127.1,307.4 L127.8,308.2 L128.5,309.1 L129.3,309.9 L130.0,310.8 L130.7,311.6 L131.5,312.5 L132.2,313.3 L132.9,314.2 L133.6,315.0 L134.3,315.8 L135.0,316.7 L135.7,317.5 L136.4,318.3 L137.0,319.0 L137.6,319.8 L138.2,320.5 L138.8,321.1 L139.4,321.8 L139.9,322.4 L140.9,323.5 L141.7,324.5 L142.5,325.4 L143.2,326.1 L143.8,326.9 L144.4,327.5 L145.0,328.2 L145.6,328.9 L146.1,329.6 L146.7,330.3 L147.4,331.1 L148.0,331.9 L148.7,332.7 L149.3,333.6 L150.0,334.5 L150.7,335.4 L151.3,336.3 L152.0,337.1 L152.6,338.0 L153.2,338.8 L153.8,339.6 L154.4,340.4 L154.9,341.1 L155.7,342.2 L156.5,343.1 L157.2,344.0 L157.9,344.8 L158.5,345.6 L159.2,346.4 L159.9,347.3 L160.5,348.1 L161.2,348.9 L161.8,349.6 L162.4,350.4 L163.0,351.2 L163.7,352.0 L164.3,352.7 L165.0,353.5 L165.7,354.2 L166.4,354.9 L167.1,355.5 L167.8,356.1 L168.5,356.8 L169.3,357.5 L170.0,358.3 L170.7,359.2 L171.2,360.0 L171.7,360.8 L172.2,361.7 L172.7,362.6 L173.1,363.5 L173.6,364.5 L174.1,365.5 L174.6,366.5 L175.2,367.4 L175.8,368.3 L176.4,369.2 L177.0,370.0 L177.7,370.7 L178.3,371.4 L179.0,372.1 L179.7,372.8 L180.5,373.5 L181.2,374.2 L182.0,374.9 L182.7,375.6 L183.4,376.3 L184.2,377.0 L184.9,377.8 L185.6,378.5 L186.2,379.2 L186.9,380.0 L187.6,380.7 L188.3,381.4 L188.9,382.2 L189.6,383.0 L190.3,383.7 L191.0,384.5 L191.6,385.3 L192.3,386.1 L192.9,386.9 L193.5,387.7 L194.1,388.5 L194.7,389.4 L195.2,390.3 L195.8,391.3 L196.3,392.2 L196.9,393.2 L197.4,394.1 L197.9,395.1 L198.5,396.0 L199.0,396.8 L199.5,397.6 L200.1,398.4 L200.6,399.1 L201.4,400.0 L202.2,400.7 L203.0,401.3 L203.8,401.9 L204.5,402.4 L205.3,402.9 L206.1,403.4 L206.9,404.1 L207.7,404.8 L208.4,405.5 L209.0,406.2 L209.7,406.9 L210.3,407.6 L211.0,408.4 L211.6,409.2 L212.3,410.0 L212.9,410.8 L213.6,411.7 L214.2,412.5 L214.9,413.4 L215.5,414.2 L216.1,415.1 L216.7,416.0 L217.2,416.9 L217.8,417.8 L218.4,418.7 L219.0,419.6 L219.6,420.5 L220.2,421.5 L220.8,422.4 L221.4,423.2 L222.0,424.1 L222.7,425.0 L223.4,425.9 L224.1,426.8 L224.9,427.7 L225.7,428.6 L226.4,429.5 L227.2,430.4 L227.9,431.2 L228.5,431.9 L229.1,432.6 L229.6,433.1 L230.0,433.6 L230.0,433.6" fill="none" stroke="#1ab2ef" stroke-width="0.9" stroke-dasharray="1,3" stroke-opacity="0.6"/>
<path d="M222.0,413.6 L223.5,416.0 L224.8,418.6 L226.4,419.6 L227.9,421.0 L229.4,422.3 L230.7,423.4 L232.1,427.9 L233.5,428.9 L235.3,429.6 L237.0,433.5 L238.4,436.6 L240.0,440.3 L241.6,439.9 L243.5,442.4 L244.9,443.6 L246.4,447.5 L248.0,451.3 L249.8,452.9 L251.7,452.6 L253.6,456.3 L255.4,457.2 L256.8,459.3 L258.3,462.7 L259.8,462.9 L261.3,465.1 L262.7,466.4 L264.0,468.6 L265.7,472.2 L267.4,470.4 L269.0,473.2 L270.6,473.7 L272.0,474.7 L273.4,476.5 L274.9,480.6 L276.3,482.6 L277.9,483.7 L279.6,486.0 L281.4,486.7 L283.1,485.9 L285.0,486.8 L287.1,489.5 L289.1,490.6 L291.3,492.5 L293.6,494.0 L294.3,492.4" fill="none" stroke="#1ab2ef" stroke-width="0.8" stroke-dasharray="1.6,1.6" stroke-opacity="0.75"/>
<path d="M222.0,415.8 L223.5,419.0 L224.8,420.8 L226.4,421.4 L227.9,423.0 L229.4,424.4 L230.7,425.7 L232.1,427.9 L233.5,429.5 L235.3,434.3 L237.0,434.4 L238.4,437.0 L240.0,442.9 L241.6,445.2 L243.5,444.0 L244.9,446.7 L246.4,451.9 L248.0,451.3 L249.8,454.9 L251.7,457.8 L253.6,460.1 L255.4,459.6 L256.8,464.5 L258.3,466.8 L259.8,466.8 L261.3,467.9 L262.7,471.2 L264.0,473.9 L265.7,475.2 L267.4,472.7 L269.0,476.4 L270.6,476.6 L272.0,480.6 L273.4,482.2 L274.9,481.7 L276.3,485.4 L277.9,486.9 L279.6,484.8 L281.4,487.6 L283.1,491.5 L285.0,489.3 L287.1,491.4 L289.1,493.2 L291.3,492.9 L293.6,496.0 L294.3,494.9" fill="none" stroke="#1ab2ef" stroke-width="0.8" stroke-dasharray="1.6,1.6" stroke-opacity="0.75"/>
<path d="M222.0,421.2 L223.5,423.2 L224.8,425.0 L226.4,425.7 L227.9,428.6 L229.4,431.6 L230.7,432.2 L232.1,433.8 L233.5,436.5 L235.3,437.9 L237.0,439.8 L238.4,444.6 L240.0,444.7 L241.6,450.1 L243.5,452.6 L244.9,452.8 L246.4,454.7 L248.0,454.7 L249.8,457.7 L251.7,463.2 L253.6,465.5 L255.4,467.4 L256.8,466.7 L258.3,471.3 L259.8,474.4 L261.3,475.5 L262.7,476.0 L264.0,476.2 L265.7,477.7 L267.4,477.5 L269.0,478.0 L270.6,483.9 L272.0,482.7 L273.4,484.5 L274.9,486.7 L276.3,490.8 L277.9,492.0 L279.6,492.5 L281.4,494.4 L283.1,494.5 L285.0,496.3 L287.1,498.1 L289.1,498.4 L291.3,496.4 L293.6,499.4 L294.3,499.9" fill="none" stroke="#1ab2ef" stroke-width="0.8" stroke-dasharray="1.6,1.6" stroke-opacity="0.75"/>
<path d="M222.0,425.0 L223.5,425.6 L224.8,428.2 L226.4,428.6 L227.9,431.0 L229.4,432.2 L230.7,434.6 L232.1,434.9 L233.5,437.8 L235.3,439.9 L237.0,441.3 L238.4,447.0 L240.0,450.3 L241.6,449.3 L243.5,453.9 L244.9,455.2 L246.4,456.7 L248.0,459.7 L249.8,462.5 L251.7,463.3 L253.6,466.2 L255.4,469.3 L256.8,473.3 L258.3,474.8 L259.8,475.9 L261.3,476.0 L262.7,479.6 L264.0,481.3 L265.7,482.4 L267.4,480.2 L269.0,482.2 L270.6,482.8 L272.0,485.5 L273.4,489.2 L274.9,489.3 L276.3,490.1 L277.9,490.9 L279.6,492.4 L281.4,497.1 L283.1,499.0 L285.0,499.9 L287.1,496.8 L289.1,499.0 L291.3,499.4 L293.6,501.9 L294.3,502.4" fill="none" stroke="#1ab2ef" stroke-width="0.8" stroke-dasharray="1.6,1.6" stroke-opacity="0.75"/>
<path d="M60.9,237.6 L61.7,238.2 L62.5,238.8 L63.3,239.4 L64.1,240.0 L64.9,240.6 L65.7,241.2 L66.5,241.8 L67.3,242.4 L68.1,243.0 L68.9,243.6 L69.7,244.2 L70.5,244.8 L71.3,245.4 L72.1,246.0 L72.9,246.6 L73.7,247.2 L74.5,247.8 L75.3,248.4 L76.1,249.0 L76.9,249.6 L77.7,250.2 L78.5,250.8 L79.2,251.6 L79.9,252.3 L80.6,253.1 L81.4,253.8 L82.1,254.6 L82.8,255.3 L83.5,256.1 L84.2,256.8 L84.9,257.6 L85.6,258.3 L86.3,259.1 L87.1,259.8 L87.8,260.6 L88.5,261.3 L89.2,262.1 L89.9,262.8 L90.6,263.6 L91.3,264.3 L92.0,265.1 L92.8,265.8 L93.5,266.6 L94.2,267.3 L94.9,268.1 L95.6,268.9 L96.3,269.6 L97.0,270.4 L97.7,271.1 L98.4,271.9 L99.1,272.6 L99.8,273.4 L100.5,274.1 L101.2,274.9 L101.9,275.6 L102.6,276.4 L103.3,277.1 L104.0,277.9 L104.7,278.6 L105.4,279.4 L106.1,280.1 L106.9,280.8 L107.7,281.5 L108.4,282.3 L109.2,283.0 L110.0,283.7 L110.5,284.2 L110.9,284.7 L111.5,285.3 L112.1,285.9 L112.7,286.5 L113.3,287.2 L114.0,287.9 L114.6,288.6 L115.3,289.4 L116.1,290.2 L116.8,291.0 L117.6,291.8 L118.3,292.6 L119.1,293.5 L119.9,294.3 L120.6,295.1 L121.4,296.0 L122.1,296.8 L122.9,297.6 L123.6,298.4 L124.3,299.2 L125.0,300.0 L125.7,300.8 L126.4,301.6 L127.1,302.4 L127.8,303.2 L128.5,304.1 L129.3,304.9 L130.0,305.8 L130.7,306.6 L131.5,307.5 L132.2,308.3 L132.9,309.2 L133.6,310.0 L134.3,310.8 L135.0,311.7 L135.7,312.5 L136.4,313.3 L137.0,314.0 L137.6,314.8 L138.2,315.5 L138.8,316.1 L139.4,316.8 L139.9,317.4 L140.9,318.5 L141.7,319.5 L142.5,320.4 L143.2,321.1 L143.8,321.9 L144.4,322.5 L145.0,323.2 L145.6,323.9 L146.1,324.6 L146.7,325.3 L147.4,326.1 L148.0,326.9 L148.7,327.7 L149.3,328.6 L150.0,329.5 L150.7,330.4 L151.3,331.3 L152.0,332.1 L152.6,333.0 L153.2,333.8 L153.8,334.6 L154.4,335.4 L154.9,336.1 L155.7,337.2 L156.5,338.1 L157.2,339.0 L157.9,339.8 L158.5,340.6 L159.2,341.4 L159.9,342.3 L160.5,343.1 L161.2,343.9 L161.8,344.6 L162.4,345.4 L163.0,346.2 L163.7,347.0 L164.3,347.7 L165.0,348.5 L165.7,349.2 L166.4,349.9 L167.1,350.5 L167.8,351.1 L168.5,351.8 L169.3,352.5 L170.0,353.3 L170.7,354.2 L171.2,355.0 L171.7,355.8 L172.2,356.7 L172.7,357.6 L173.1,358.5 L173.6,359.5 L174.1,360.5 L174.6,361.5 L175.2,362.4 L175.8,363.3 L176.4,364.2 L177.0,365.0 L177.7,365.7 L178.3,366.4 L179.0,367.1 L179.7,367.8 L180.5,368.5 L181.2,369.2 L182.0,369.9 L182.7,370.6 L183.4,371.3 L184.2,372.0 L184.9,372.8 L185.6,373.5 L186.2,374.2 L186.9,375.0 L187.6,375.7 L188.3,376.4 L188.9,377.2 L189.6,378.0 L190.3,378.7 L191.0,379.5 L191.6,380.3 L192.3,381.1 L192.9,381.9 L193.5,382.7 L194.1,383.5 L194.7,384.4 L195.2,385.3 L195.8,386.3 L196.3,387.2 L196.9,388.2 L197.4,389.1 L197.9,390.1 L198.5,391.0 L199.0,391.8 L199.5,392.6 L200.1,393.4 L200.6,394.1 L201.4,395.0 L202.2,395.7 L203.0,396.3 L203.8,396.9 L204.5,397.4 L205.3,397.9 L206.1,398.4 L206.9,399.1 L207.7,399.8 L208.4,400.5 L209.0,401.2 L209.7,401.9 L210.3,402.6 L211.0,403.4 L211.6,404.2 L212.3,405.0 L212.9,405.8 L213.6,406.7 L214.2,407.5 L214.9,408.4 L215.5,409.2 L216.1,410.1 L216.7,411.0 L217.2,411.9 L217.8,412.8 L218.4,413.7 L219.0,414.6 L219.6,415.5 L220.2,416.5 L220.8,417.4 L221.4,418.2 L222.0,419.1 L222.6,419.9 L223.3,420.8 L224.0,421.6 L224.7,422.4 L225.4,423.2 L227.4,425.6 L230.0,428.8 L232.1,431.3 L234.7,434.7 L237.0,438.2 L239.4,442.2 L241.6,445.9 L244.2,449.4 L246.4,452.6 L248.6,454.3 L251.1,458.1 L253.6,461.0 L256.0,465.8 L258.3,468.3 L260.6,469.1 L262.7,474.1 L265.7,477.0 L268.2,477.6 L270.6,479.5 L272.7,480.5 L274.9,482.7 L277.0,486.8 L279.6,487.7 L282.2,490.2 L285.0,492.3 L287.1,492.7 L290.0,495.4 L292.5,496.5 L294.3,497.4" fill="none" stroke="#1ab2ef" stroke-width="1.2" stroke-linejoin="round"/>
<path d="M109.3,279.1 L109.8,279.5 L110.4,279.9 L111.1,280.5 L111.9,281.1 L112.8,281.7 L113.7,282.4 L114.7,283.2 L115.6,283.9 L116.5,284.7 L117.3,285.5 L117.9,286.2 L118.5,286.8 L119.1,287.4 L119.6,288.1 L120.2,288.7 L120.7,289.4 L121.3,290.1 L121.9,290.9 L122.6,291.8 L123.3,292.8 L124.1,293.8 L125.0,295.0 L125.5,295.6 L126.0,296.3 L126.6,297.0 L127.1,297.8 L127.7,298.6 L128.3,299.4 L129.0,300.3 L129.6,301.1 L130.3,302.0 L130.9,302.9 L131.6,303.8 L132.3,304.8 L133.0,305.7 L133.7,306.6 L134.4,307.5 L135.0,308.4 L135.7,309.3 L136.4,310.2 L137.0,311.1 L137.6,311.9 L138.2,312.7 L138.8,313.5 L139.4,314.2 L139.9,314.9 L140.7,315.9 L141.4,316.8 L142.1,317.8 L142.8,318.6 L143.5,319.5 L144.1,320.3 L144.7,321.1 L145.4,321.9 L146.0,322.6 L146.5,323.3 L147.1,324.0 L147.7,324.7 L148.2,325.4 L148.8,326.1 L149.4,326.7 L149.9,327.4 L150.7,328.4 L151.4,329.3 L152.2,330.2 L152.9,331.1 L153.6,332.0 L154.3,332.8 L155.0,333.6 L155.6,334.3 L156.2,334.9 L156.8,335.6 L157.4,336.1 L158.6,337.0 L159.7,337.6 L160.7,337.9 L161.6,338.2 L162.4,338.6 L163.4,339.2 L164.1,339.9 L165.0,340.7 L165.6,341.2 L166.3,341.7 L167.0,342.3 L167.7,343.0 L168.5,343.8 L169.3,345.0 L169.7,345.7 L170.2,346.6 L170.6,347.5 L171.1,348.5 L171.6,349.5 L172.1,350.6 L172.6,351.7 L173.0,352.8 L173.5,353.8 L174.0,354.7 L174.5,355.6 L175.0,356.4 L175.7,357.4 L176.5,358.3 L177.2,359.1 L177.9,359.8 L178.7,360.4 L179.4,361.0 L180.1,361.6 L180.7,362.1 L181.6,362.8 L182.4,363.2 L183.2,363.6 L184.0,364.1 L184.9,364.9 L185.5,365.5 L186.0,366.0 L186.6,366.6 L187.2,367.3 L187.8,368.0 L188.4,368.8 L189.1,369.8 L189.8,370.8 L190.6,372.0 L191.0,372.7 L191.5,373.5 L192.0,374.4 L192.5,375.4 L193.0,376.4 L193.5,377.4 L194.1,378.5 L194.6,379.5 L195.2,380.6 L195.7,381.7 L196.3,382.7 L196.8,383.7 L197.3,384.7 L197.8,385.5 L198.3,386.4 L198.8,387.1 L199.2,387.7 L200.3,389.0 L201.4,389.8 L202.3,390.3 L203.2,390.6 L204.1,390.8 L204.9,391.3 L205.8,391.9 L206.7,392.5 L207.4,393.1 L208.3,393.9 L209.2,394.8 L209.8,395.4 L210.3,396.1 L210.9,396.8 L211.6,397.6 L212.2,398.4 L212.8,399.3 L213.5,400.1 L214.2,401.1 L214.9,402.0 L215.4,402.7 L216.0,403.5 L216.6,404.4 L217.2,405.2 L217.8,406.1 L218.4,407.0 L219.0,407.9 L219.6,408.8 L220.2,409.6 L220.8,410.4 L221.4,411.2 L222.0,411.9 L222.8,412.8 L223.7,413.6 L224.6,414.4 L225.5,415.2 L226.4,415.9 L227.3,416.5 L228.0,417.0 L228.6,417.5 L229.1,417.9 L229.1,417.9" fill="none" stroke="#333" stroke-width="0.9" stroke-dasharray="1,3" stroke-opacity="0.6"/>
<path d="M109.3,289.1 L109.8,289.5 L110.4,289.9 L111.1,290.5 L111.9,291.1 L112.8,291.7 L113.7,292.4 L114.7,293.2 L115.6,293.9 L116.5,294.7 L117.3,295.5 L117.9,296.2 L118.5,296.8 L119.1,297.4 L119.6,298.1 L120.2,298.7 L120.7,299.4 L121.3,300.1 L121.9,300.9 L122.6,301.8 L123.3,302.8 L124.1,303.8 L125.0,305.0 L125.5,305.6 L126.0,306.3 L126.6,307.0 L127.1,307.8 L127.7,308.6 L128.3,309.4 L129.0,310.3 L129.6,311.1 L130.3,312.0 L130.9,312.9 L131.6,313.8 L132.3,314.8 L133.0,315.7 L133.7,316.6 L134.4,317.5 L135.0,318.4 L135.7,319.3 L136.4,320.2 L137.0,321.1 L137.6,321.9 L138.2,322.7 L138.8,323.5 L139.4,324.2 L139.9,324.9 L140.7,325.9 L141.4,326.8 L142.1,327.8 L142.8,328.6 L143.5,329.5 L144.1,330.3 L144.7,331.1 L145.4,331.9 L146.0,332.6 L146.5,333.3 L147.1,334.0 L147.7,334.7 L148.2,335.4 L148.8,336.1 L149.4,336.7 L149.9,337.4 L150.7,338.4 L151.4,339.3 L152.2,340.2 L152.9,341.1 L153.6,342.0 L154.3,342.8 L155.0,343.6 L155.6,344.3 L156.2,344.9 L156.8,345.6 L157.4,346.1 L158.6,347.0 L159.7,347.6 L160.7,347.9 L161.6,348.2 L162.4,348.6 L163.4,349.2 L164.1,349.9 L165.0,350.7 L165.6,351.2 L166.3,351.7 L167.0,352.3 L167.7,353.0 L168.5,353.8 L169.3,355.0 L169.7,355.7 L170.2,356.6 L170.6,357.5 L171.1,358.5 L171.6,359.5 L172.1,360.6 L172.6,361.7 L173.0,362.8 L173.5,363.8 L174.0,364.7 L174.5,365.6 L175.0,366.4 L175.7,367.4 L176.5,368.3 L177.2,369.1 L177.9,369.8 L178.7,370.4 L179.4,371.0 L180.1,371.6 L180.7,372.1 L181.6,372.8 L182.4,373.2 L183.2,373.6 L184.0,374.1 L184.9,374.9 L185.5,375.5 L186.0,376.0 L186.6,376.6 L187.2,377.3 L187.8,378.0 L188.4,378.8 L189.1,379.8 L189.8,380.8 L190.6,382.0 L191.0,382.7 L191.5,383.5 L192.0,384.4 L192.5,385.4 L193.0,386.4 L193.5,387.4 L194.1,388.5 L194.6,389.5 L195.2,390.6 L195.7,391.7 L196.3,392.7 L196.8,393.7 L197.3,394.7 L197.8,395.5 L198.3,396.4 L198.8,397.1 L199.2,397.7 L200.3,399.0 L201.4,399.8 L202.3,400.3 L203.2,400.6 L204.1,400.8 L204.9,401.3 L205.8,401.9 L206.7,402.5 L207.4,403.1 L208.3,403.9 L209.2,404.8 L209.8,405.4 L210.3,406.1 L210.9,406.8 L211.6,407.6 L212.2,408.4 L212.8,409.3 L213.5,410.1 L214.2,411.1 L214.9,412.0 L215.4,412.7 L216.0,413.5 L216.6,414.4 L217.2,415.2 L217.8,416.1 L218.4,417.0 L219.0,417.9 L219.6,418.8 L220.2,419.6 L220.8,420.4 L221.4,421.2 L222.0,421.9 L222.8,422.8 L223.7,423.6 L224.6,424.4 L225.5,425.2 L226.4,425.9 L227.3,426.5 L228.0,427.0 L228.6,427.5 L229.1,427.9 L229.1,427.9" fill="none" stroke="#333" stroke-width="0.9" stroke-dasharray="1,3" stroke-opacity="0.6"/>
<path d="M222.0,411.4 L223.9,412.4 L225.6,415.0 L227.4,415.5 L229.1,418.3 L230.8,419.3 L232.5,425.0 L234.1,426.9 L235.5,427.5 L237.5,426.8 L239.6,430.4 L241.3,433.5 L242.7,434.0 L244.2,436.0 L245.8,443.2 L247.6,445.3 L249.5,445.8 L250.8,445.7 L252.2,450.4 L253.5,453.0 L255.4,451.9 L256.8,453.8 L258.4,457.8 L259.8,458.6 L261.2,460.8 L262.7,460.8 L264.2,460.4 L265.7,465.3 L267.2,466.2 L268.7,468.0 L270.2,466.9 L271.5,468.1 L273.0,472.8 L274.4,474.0 L276.2,472.0 L277.7,473.3 L279.2,474.9 L280.8,478.8 L282.4,478.1 L283.9,478.9 L285.8,481.8 L287.6,485.0 L289.2,483.7 L291.3,482.9 L293.6,484.4 L294.3,486.5" fill="none" stroke="#333" stroke-width="0.8" stroke-dasharray="1.6,1.6" stroke-opacity="0.75"/>
<path d="M222.0,415.2 L223.9,415.1 L225.6,416.1 L227.4,417.6 L229.1,421.1 L230.8,424.0 L232.5,427.6 L234.1,429.4 L235.5,431.3 L237.5,431.7 L239.6,431.4 L241.3,434.5 L242.7,435.6 L244.2,438.2 L245.8,445.2 L247.6,447.4 L249.5,450.7 L250.8,451.2 L252.2,452.1 L253.5,451.6 L255.4,457.1 L256.8,457.1 L258.4,460.3 L259.8,461.3 L261.2,462.7 L262.7,463.4 L264.2,465.6 L265.7,465.3 L267.2,468.2 L268.7,468.8 L270.2,470.7 L271.5,473.8 L273.0,474.9 L274.4,475.5 L276.2,476.9 L277.7,476.5 L279.2,480.8 L280.8,480.1 L282.4,481.2 L283.9,484.7 L285.8,484.1 L287.6,486.3 L289.2,484.8 L291.3,488.6 L293.6,490.8 L294.3,489.0" fill="none" stroke="#333" stroke-width="0.8" stroke-dasharray="1.6,1.6" stroke-opacity="0.75"/>
<path d="M222.0,420.1 L223.9,421.0 L225.6,422.7 L227.4,422.3 L229.1,425.8 L230.8,428.7 L232.5,430.9 L234.1,433.7 L235.5,434.9 L237.5,435.6 L239.6,436.8 L241.3,440.9 L242.7,442.5 L244.2,445.1 L245.8,447.5 L247.6,452.2 L249.5,452.6 L250.8,453.0 L252.2,456.9 L253.5,458.3 L255.4,461.9 L256.8,461.6 L258.4,464.4 L259.8,464.3 L261.2,466.3 L262.7,465.7 L264.2,469.0 L265.7,469.3 L267.2,471.7 L268.7,472.6 L270.2,476.2 L271.5,475.9 L273.0,477.5 L274.4,479.1 L276.2,482.1 L277.7,482.3 L279.2,485.4 L280.8,486.5 L282.4,486.1 L283.9,488.3 L285.8,489.9 L287.6,488.0 L289.2,490.8 L291.3,491.4 L293.6,492.9 L294.3,494.0" fill="none" stroke="#333" stroke-width="0.8" stroke-dasharray="1.6,1.6" stroke-opacity="0.75"/>
<path d="M222.0,421.4 L223.9,422.5 L225.6,424.4 L227.4,425.2 L229.1,427.6 L230.8,429.2 L232.5,433.5 L234.1,436.5 L235.5,437.7 L237.5,439.7 L239.6,437.1 L241.3,443.9 L242.7,444.4 L244.2,446.3 L245.8,450.3 L247.6,453.1 L249.5,453.6 L250.8,458.6 L252.2,459.8 L253.5,461.2 L255.4,463.5 L256.8,466.4 L258.4,465.9 L259.8,467.7 L261.2,470.9 L262.7,472.1 L264.2,470.1 L265.7,471.3 L267.2,476.6 L268.7,476.8 L270.2,475.4 L271.5,477.6 L273.0,479.7 L274.4,481.6 L276.2,482.8 L277.7,484.4 L279.2,486.9 L280.8,490.0 L282.4,490.3 L283.9,492.6 L285.8,489.4 L287.6,491.8 L289.2,495.6 L291.3,495.4 L293.6,495.3 L294.3,496.5" fill="none" stroke="#333" stroke-width="0.8" stroke-dasharray="1.6,1.6" stroke-opacity="0.75"/>
<path d="M60.9,255.6 L61.8,256.0 L62.8,256.4 L63.7,256.8 L64.6,257.2 L65.5,257.6 L66.5,258.0 L67.4,258.4 L68.3,258.8 L69.2,259.2 L70.2,259.7 L71.1,260.1 L72.0,260.5 L72.9,260.9 L73.9,261.3 L74.8,261.7 L75.7,262.1 L76.6,262.5 L77.6,262.9 L78.5,263.3 L79.3,263.9 L80.1,264.5 L81.0,265.1 L81.8,265.7 L82.6,266.3 L83.4,266.9 L84.2,267.5 L85.1,268.1 L85.9,268.7 L86.7,269.3 L87.5,269.9 L88.3,270.5 L89.2,271.1 L90.0,271.7 L90.8,272.3 L91.6,272.9 L92.4,273.5 L93.3,274.1 L94.1,274.7 L94.9,275.3 L95.8,275.9 L96.7,276.4 L97.6,276.9 L98.5,277.5 L99.4,278.1 L100.3,278.6 L101.2,279.2 L102.1,279.7 L103.0,280.2 L103.9,280.8 L104.8,281.4 L105.7,281.9 L106.6,282.5 L107.5,283.0 L108.4,283.6 L109.3,284.1 L110.4,284.8 L111.3,285.5 L112.2,286.1 L113.0,286.7 L113.7,287.3 L114.4,287.8 L115.1,288.4 L115.8,289.1 L116.5,289.7 L117.3,290.5 L117.9,291.2 L118.5,291.8 L119.1,292.4 L119.6,293.1 L120.2,293.7 L120.7,294.4 L121.3,295.1 L121.9,295.9 L122.6,296.8 L123.3,297.8 L124.1,298.8 L125.0,300.0 L125.5,300.6 L126.0,301.3 L126.6,302.0 L127.1,302.8 L127.7,303.6 L128.3,304.4 L129.0,305.3 L129.6,306.1 L130.3,307.0 L130.9,307.9 L131.6,308.8 L132.3,309.8 L133.0,310.7 L133.7,311.6 L134.4,312.5 L135.0,313.4 L135.7,314.3 L136.4,315.2 L137.0,316.1 L137.6,316.9 L138.2,317.7 L138.8,318.5 L139.4,319.2 L139.9,319.9 L140.7,320.9 L141.4,321.8 L142.1,322.8 L142.8,323.6 L143.5,324.5 L144.1,325.3 L144.7,326.1 L145.4,326.9 L146.0,327.6 L146.5,328.3 L147.1,329.0 L147.7,329.7 L148.2,330.4 L148.8,331.1 L149.4,331.7 L149.9,332.4 L150.7,333.4 L151.4,334.3 L152.2,335.2 L152.9,336.1 L153.6,337.0 L154.3,337.8 L155.0,338.6 L155.6,339.3 L156.2,339.9 L156.8,340.6 L157.4,341.1 L158.6,342.0 L159.7,342.6 L160.7,342.9 L161.6,343.2 L162.4,343.6 L163.4,344.2 L164.1,344.9 L165.0,345.7 L165.6,346.2 L166.3,346.7 L167.0,347.3 L167.7,348.0 L168.5,348.8 L169.3,350.0 L169.7,350.7 L170.2,351.6 L170.6,352.5 L171.1,353.5 L171.6,354.5 L172.1,355.6 L172.6,356.7 L173.0,357.8 L173.5,358.8 L174.0,359.7 L174.5,360.6 L175.0,361.4 L175.7,362.4 L176.5,363.3 L177.2,364.1 L177.9,364.8 L178.7,365.4 L179.4,366.0 L180.1,366.6 L180.7,367.1 L181.6,367.8 L182.4,368.2 L183.2,368.6 L184.0,369.1 L184.9,369.9 L185.5,370.5 L186.0,371.0 L186.6,371.6 L187.2,372.3 L187.8,373.0 L188.4,373.8 L189.1,374.8 L189.8,375.8 L190.6,377.0 L191.0,377.7 L191.5,378.5 L192.0,379.4 L192.5,380.4 L193.0,381.4 L193.5,382.4 L194.1,383.5 L194.6,384.5 L195.2,385.6 L195.7,386.7 L196.3,387.7 L196.8,388.7 L197.3,389.7 L197.8,390.5 L198.3,391.4 L198.8,392.1 L199.2,392.7 L200.3,394.0 L201.4,394.8 L202.3,395.3 L203.2,395.6 L204.1,395.8 L204.9,396.3 L205.8,396.9 L206.7,397.5 L207.4,398.1 L208.3,398.9 L209.2,399.8 L209.8,400.4 L210.3,401.1 L210.9,401.8 L211.6,402.6 L212.2,403.4 L212.8,404.3 L213.5,405.1 L214.2,406.1 L214.9,407.0 L215.4,407.7 L216.0,408.5 L216.6,409.4 L217.2,410.2 L217.8,411.1 L218.4,412.0 L219.0,412.9 L219.6,413.8 L220.2,414.6 L220.8,415.4 L221.4,416.2 L222.0,416.9 L222.8,417.7 L223.6,418.4 L224.4,419.0 L225.2,419.6 L227.6,421.4 L229.7,423.7 L231.9,427.2 L234.1,430.9 L236.6,433.8 L239.6,433.7 L241.7,438.1 L244.2,443.2 L246.4,447.0 L248.8,450.2 L250.8,452.9 L252.9,454.2 L255.4,457.7 L257.6,459.4 L259.8,463.6 L262.0,463.2 L264.2,467.7 L266.4,467.6 L268.7,471.8 L270.9,472.8 L273.0,475.2 L275.6,479.4 L277.7,478.8 L280.0,480.9 L282.4,485.7 L284.8,486.2 L287.6,486.5 L290.0,490.8 L292.5,492.0 L294.3,491.5" fill="none" stroke="#1a1a1a" stroke-width="1.2" stroke-linejoin="round"/>
</g>
<clipPath id="clipc"><rect x="397" y="216.5" width="254" height="307.0"/></clipPath>
<rect x="397" y="216.5" width="254" height="307.0" fill="none" stroke="#c6c6c6" stroke-width="1.1"/>
<path d="M435.23,523.5v-3M435.23,216.5v3M457.59,523.5v-3M457.59,216.5v3M473.46,523.5v-3M473.46,216.5v3M485.77,523.5v-3M485.77,216.5v3M495.83,523.5v-3M495.83,216.5v3M504.33,523.5v-3M504.33,216.5v3M511.69,523.5v-3M511.69,216.5v3M518.19,523.5v-3M518.19,216.5v3M524.00,523.5v-5M524.00,216.5v5M562.23,523.5v-3M562.23,216.5v3M584.59,523.5v-3M584.59,216.5v3M600.46,523.5v-3M600.46,216.5v3M612.77,523.5v-3M612.77,216.5v3M622.83,523.5v-3M622.83,216.5v3M631.33,523.5v-3M631.33,216.5v3M638.69,523.5v-3M638.69,216.5v3M645.19,523.5v-3M645.19,216.5v3M397,523.01h3M651,523.01h-3M397,515.66h3M651,515.66h-3M397,509.44h3M651,509.44h-3M397,504.06h3M651,504.06h-3M397,499.31h3M651,499.31h-3M397,495.06h5M651,495.06h-5M397,467.11h3M651,467.11h-3M397,450.76h3M651,450.76h-3M397,439.16h3M651,439.16h-3M397,430.16h3M651,430.16h-3M397,422.81h3M651,422.81h-3M397,416.59h3M651,416.59h-3M397,411.21h3M651,411.21h-3M397,406.46h3M651,406.46h-3M397,402.21h5M651,402.21h-5M397,374.26h3M651,374.26h-3M397,357.91h3M651,357.91h-3M397,346.30h3M651,346.30h-3M397,337.31h3M651,337.31h-3M397,329.95h3M651,329.95h-3M397,323.74h3M651,323.74h-3M397,318.35h3M651,318.35h-3M397,313.60h3M651,313.60h-3M397,309.35h5M651,309.35h-5M397,281.40h3M651,281.40h-3M397,265.05h3M651,265.05h-3M397,253.45h3M651,253.45h-3M397,244.45h3M651,244.45h-3M397,237.10h3M651,237.10h-3M397,230.88h3M651,230.88h-3M397,225.50h3M651,225.50h-3M397,220.75h3M651,220.75h-3M397,216.50h5M651,216.50h-5" stroke="#c8c8c8" stroke-width="1" fill="none"/>
<text x="377.6" y="500.2613849104718" font-size="13.7" fill="#000" stroke="#000" stroke-width="0.45" textLength="12.3" lengthAdjust="spacingAndGlyphs" style="">10</text>
<text x="390.3" y="493.8613849104718" font-size="8.5" fill="#000" stroke="#000" stroke-width="0.2" textLength="4.0" lengthAdjust="spacingAndGlyphs" style="">1</text>
<text x="377.6" y="407.40758994031455" font-size="13.7" fill="#000" stroke="#000" stroke-width="0.45" textLength="12.3" lengthAdjust="spacingAndGlyphs" style="">10</text>
<text x="390.3" y="401.0075899403146" font-size="8.5" fill="#000" stroke="#000" stroke-width="0.2" textLength="4.0" lengthAdjust="spacingAndGlyphs" style="">2</text>
<text x="377.6" y="314.5537949701573" font-size="13.7" fill="#000" stroke="#000" stroke-width="0.45" textLength="12.3" lengthAdjust="spacingAndGlyphs" style="">10</text>
<text x="390.3" y="308.1537949701573" font-size="8.5" fill="#000" stroke="#000" stroke-width="0.2" textLength="4.0" lengthAdjust="spacingAndGlyphs" style="">3</text>
<text x="377.6" y="221.7" font-size="13.7" fill="#000" stroke="#000" stroke-width="0.45" textLength="12.3" lengthAdjust="spacingAndGlyphs" style="">10</text>
<text x="390.3" y="215.3" font-size="8.5" fill="#000" stroke="#000" stroke-width="0.2" textLength="4.0" lengthAdjust="spacingAndGlyphs" style="">4</text>
<text x="388.9" y="537.4000000000001" font-size="13.7" fill="#000" stroke="#000" stroke-width="0.45" textLength="12.3" lengthAdjust="spacingAndGlyphs" style="">10</text>
<text x="401.3" y="532.2" font-size="8.5" fill="#000" stroke="#000" stroke-width="0.2" textLength="6" lengthAdjust="spacingAndGlyphs" style="">-4</text>
<text x="515.9" y="537.4000000000001" font-size="13.7" fill="#000" stroke="#000" stroke-width="0.45" textLength="12.3" lengthAdjust="spacingAndGlyphs" style="">10</text>
<text x="528.3" y="532.2" font-size="8.5" fill="#000" stroke="#000" stroke-width="0.2" textLength="6" lengthAdjust="spacingAndGlyphs" style="">-3</text>
<text x="642.9" y="537.4000000000001" font-size="13.7" fill="#000" stroke="#000" stroke-width="0.45" textLength="12.3" lengthAdjust="spacingAndGlyphs" style="">10</text>
<text x="655.3" y="532.2" font-size="8.5" fill="#000" stroke="#000" stroke-width="0.2" textLength="6" lengthAdjust="spacingAndGlyphs" style="">-2</text>
<text x="480.8" y="556.3000000000001" font-size="14.5" fill="#000" stroke="#000" stroke-width="0.45" textLength="90.5" lengthAdjust="spacingAndGlyphs" style="">Frequency [Hz]</text>
<g clip-path="url(#clipc)">
<path d="M442.9,247.9 L588.4,421.9" fill="none" stroke="#fdcdb4" stroke-width="1.1" stroke-dasharray="8,3.7"/>
<path d="M442.9,240.4 L588.4,405.1" fill="none" stroke="#a6dcf2" stroke-width="1.1" stroke-dasharray="8,3.7"/>
<path d="M442.9,237.6 L588.4,398.3" fill="none" stroke="#b4b4b4" stroke-width="1.1" stroke-dasharray="8,3.7"/>
<path d="M397.2,226.4 L397.8,227.3 L398.3,228.1 L398.9,229.0 L399.5,229.8 L400.1,230.7 L400.6,231.5 L401.2,232.4 L401.8,233.2 L402.4,234.1 L402.9,234.9 L403.5,235.8 L404.1,236.6 L404.7,237.5 L405.2,238.3 L405.8,239.2 L406.4,240.1 L407.0,240.9 L407.6,241.8 L408.1,242.6 L408.7,243.5 L409.3,244.3 L409.9,245.2 L410.4,246.0 L411.0,246.9 L411.6,247.7 L412.2,248.6 L412.7,249.4 L413.3,250.3 L413.9,251.1 L414.5,252.0 L415.0,252.8 L415.6,253.7 L416.1,254.6 L416.6,255.5 L417.0,256.4 L417.5,257.3 L418.0,258.2 L418.5,259.1 L418.9,260.0 L419.4,260.9 L419.9,261.8 L420.4,262.7 L420.9,263.6 L421.3,264.5 L421.8,265.4 L422.3,266.3 L422.8,267.2 L423.2,268.1 L423.7,269.0 L424.2,269.9 L424.7,270.8 L425.2,271.7 L425.6,272.6 L426.1,273.5 L426.6,274.4 L427.1,275.3 L427.6,276.2 L428.0,277.1 L428.5,278.0 L429.0,278.9 L429.5,279.8 L429.9,280.7 L430.4,281.6 L430.9,282.5 L431.4,283.4 L432.0,284.3 L432.5,285.2 L433.0,286.1 L433.6,286.9 L434.1,287.8 L434.6,288.7 L435.2,289.6 L435.7,290.5 L436.3,291.3 L436.9,292.2 L437.5,293.0 L438.2,293.9 L438.8,294.7 L439.4,295.6 L440.0,296.4 L440.6,297.2 L441.3,298.0 L441.9,298.8 L442.5,299.6 L443.2,300.3 L443.8,301.1 L444.4,301.9 L445.1,302.7 L445.7,303.5 L446.4,304.2 L447.1,305.0 L447.7,305.7 L448.4,306.5 L449.1,307.2 L449.8,308.0 L450.5,308.7 L451.2,309.4 L451.8,310.2 L452.5,310.9 L453.2,311.7 L453.9,312.4 L454.6,313.2 L455.3,313.9 L455.9,314.7 L456.6,315.4 L457.3,316.1 L458.0,316.9 L458.7,317.6 L459.4,318.4 L460.0,319.1 L460.7,319.9 L461.4,320.6 L462.0,321.4 L462.7,322.2 L463.3,322.9 L464.0,323.7 L464.6,324.5 L465.3,325.3 L465.9,326.0 L466.6,326.8 L467.2,327.6 L467.9,328.4 L468.5,329.1 L469.1,329.9 L469.8,330.7 L470.4,331.5 L471.1,332.3 L471.7,333.0 L472.4,333.8 L473.0,334.6 L473.7,335.4 L474.3,336.1 L475.0,336.9 L475.6,337.7 L476.2,338.5 L476.9,339.3 L477.5,340.1 L478.1,340.9 L478.7,341.7 L479.4,342.5 L480.0,343.3 L480.6,344.1 L481.2,344.9 L481.9,345.7 L482.5,346.5 L483.1,347.3 L483.7,348.1 L484.4,348.9 L485.0,349.7 L485.6,350.5 L486.2,351.3 L486.8,352.1 L487.4,352.9 L488.0,353.8 L488.5,354.6 L489.1,355.4 L489.7,356.2 L490.3,357.0 L490.9,357.8 L491.5,358.6 L492.1,359.4 L492.6,360.2 L493.2,361.1 L493.8,361.9 L494.4,362.7 L495.0,363.5 L495.5,364.4 L496.0,365.3 L496.6,366.2 L497.1,367.1 L497.6,368.0 L498.1,369.0 L498.6,369.9 L499.1,370.8 L499.7,371.7 L500.2,372.6 L500.7,373.5 L501.7,373.9 L502.7,374.3 L503.7,374.7 L504.8,375.2 L505.8,375.6 L507.8,376.4 L510.3,379.7 L512.7,382.6 L515.2,386.6 L517.6,389.9 L520.0,393.0 L522.3,395.3 L524.4,399.9 L527.0,404.4 L529.2,406.3 L531.3,410.6 L533.5,413.0 L535.6,410.0 L537.7,413.4 L539.9,417.4 L542.0,421.5 L544.6,422.7 L546.8,426.5 L549.0,429.0 L551.2,433.8 L553.7,437.6 L556.1,438.5 L558.5,444.8 L560.6,446.2 L562.8,446.5 L565.0,448.6 L567.1,449.8 L569.2,449.3 L571.4,449.5 L573.5,458.4 L575.6,460.4 L577.8,462.8 L579.9,467.5 L582.5,466.8 L585.2,469.9 L588.0,471.2 L590.4,471.5 L592.6,477.5 L594.9,482.4 L597.0,481.8 L599.5,485.3 L601.9,489.5 L604.2,491.0 L606.5,496.6 L609.0,501.4 L611.2,502.9 L613.5,504.6 L616.1,508.0 L619.0,506.3 L621.8,510.0 L624.1,508.3 L626.4,508.7 L628.5,512.1 L630.2,518.8" fill="none" stroke="#ff6620" stroke-width="1.1" stroke-linejoin="round"/>
<path d="M397.2,251.7 L398.0,252.3 L398.9,252.8 L399.7,253.4 L400.5,254.0 L401.4,254.5 L402.2,255.1 L403.1,255.6 L403.9,256.2 L404.7,256.8 L405.6,257.3 L406.4,257.9 L407.2,258.5 L408.1,259.0 L408.9,259.6 L409.7,260.2 L410.6,260.7 L411.4,261.3 L412.3,261.8 L413.1,262.4 L413.9,263.0 L414.8,263.5 L415.6,264.1 L416.3,264.9 L416.9,265.7 L417.6,266.5 L418.3,267.3 L418.9,268.1 L419.6,268.9 L420.3,269.7 L420.9,270.5 L421.6,271.3 L422.3,272.1 L422.9,272.9 L423.6,273.7 L424.2,274.5 L424.9,275.3 L425.6,276.1 L426.2,276.9 L426.9,277.7 L427.6,278.5 L428.2,279.3 L428.9,280.1 L429.6,280.9 L430.2,281.7 L430.9,282.5 L431.7,283.2 L432.4,284.0 L433.2,284.7 L433.9,285.5 L434.7,286.2 L435.4,286.9 L436.2,287.7 L437.0,288.4 L437.7,289.2 L438.5,289.9 L439.2,290.7 L440.0,291.4 L440.7,292.1 L441.4,292.8 L442.1,293.5 L442.8,294.3 L443.6,295.0 L444.3,295.7 L445.0,296.4 L445.7,297.1 L446.4,297.8 L447.1,298.5 L447.8,299.3 L448.5,300.0 L449.2,300.7 L449.9,301.4 L450.6,302.1 L451.4,302.8 L452.1,303.6 L452.8,304.3 L453.5,305.0 L454.2,305.7 L454.9,306.5 L455.5,307.4 L456.2,308.2 L456.8,309.0 L457.5,309.9 L458.1,310.7 L458.8,311.6 L459.4,312.4 L460.1,313.2 L460.7,314.1 L461.4,314.9 L462.0,315.7 L462.7,316.5 L463.3,317.2 L464.0,318.0 L464.6,318.8 L465.3,319.6 L465.9,320.3 L466.6,321.1 L467.2,321.9 L467.9,322.7 L468.5,323.4 L469.1,324.2 L469.8,325.0 L470.4,325.8 L471.1,326.6 L471.7,327.3 L472.4,328.1 L473.0,328.9 L473.7,329.7 L474.3,330.4 L475.0,331.2 L475.6,332.0 L476.6,332.5 L477.5,333.0 L478.5,333.4 L479.4,333.9 L480.4,334.4 L481.3,334.9 L482.0,335.7 L482.6,336.4 L483.3,337.2 L483.9,337.9 L484.6,338.7 L485.3,339.5 L485.9,340.2 L486.6,341.0 L487.3,341.8 L487.9,342.5 L488.6,343.3 L489.2,344.0 L489.9,344.8 L490.5,345.7 L491.1,346.6 L491.7,347.5 L492.3,348.4 L492.9,349.3 L493.4,350.1 L494.0,351.0 L494.6,351.9 L495.2,352.8 L495.8,353.7 L496.4,354.6 L497.0,355.5 L497.8,356.4 L498.5,357.3 L499.2,358.2 L500.0,359.1 L500.8,359.8 L501.6,360.6 L502.3,361.3 L503.1,362.0 L503.9,362.8 L504.7,363.5 L505.5,364.2 L507.8,366.4 L510.1,370.6 L512.6,372.3 L515.4,373.7 L517.7,375.9 L520.3,378.5 L522.9,382.0 L525.2,385.6 L527.5,389.4 L529.7,391.3 L532.0,395.1 L534.4,396.7 L536.8,400.8 L539.2,402.6 L541.4,404.5 L544.1,409.4 L546.3,410.1 L548.5,412.5 L550.7,415.8 L552.9,417.7 L555.2,419.2 L557.8,422.9 L559.9,423.4 L562.1,426.0 L564.2,428.3 L566.8,429.2 L568.9,432.9 L571.1,437.4 L573.5,443.2 L575.7,444.2 L577.8,446.9 L579.9,448.9 L582.1,451.9 L584.6,453.3 L587.0,454.8 L589.1,459.8 L591.3,462.2 L593.3,464.1 L595.9,467.1 L598.4,469.1 L601.2,470.3 L604.1,471.9 L606.6,474.6 L609.2,480.6 L611.7,481.9 L614.4,485.6 L616.9,485.7 L619.5,489.6 L621.7,491.3 L623.7,490.5 L625.7,493.5 L628.6,496.0 L630.9,493.7 L630.9,493.8" fill="none" stroke="#1ab2ef" stroke-width="1.1" stroke-linejoin="round"/>
<path d="M397.2,267.8 L398.1,268.3 L399.0,268.7 L400.0,269.2 L400.9,269.6 L401.8,270.1 L402.7,270.5 L403.6,271.0 L404.6,271.4 L405.5,271.9 L406.4,272.4 L407.3,272.8 L408.2,273.3 L409.2,273.7 L410.1,274.2 L411.0,274.6 L411.9,275.1 L412.8,275.5 L413.8,276.0 L414.7,276.4 L415.6,276.9 L416.5,277.4 L417.3,277.9 L418.2,278.5 L419.1,279.0 L420.0,279.5 L420.8,280.0 L421.7,280.6 L422.6,281.1 L423.5,281.6 L424.3,282.1 L425.2,282.6 L426.1,283.2 L427.0,283.7 L427.8,284.2 L428.7,284.7 L429.6,285.2 L430.5,285.8 L431.3,286.3 L432.2,286.8 L433.1,287.3 L434.0,287.9 L434.8,288.4 L435.7,288.9 L436.8,289.5 L437.9,290.1 L438.9,290.8 L440.0,291.4 L440.7,292.1 L441.5,292.8 L442.2,293.5 L443.0,294.2 L443.7,295.0 L444.5,295.7 L445.2,296.4 L446.0,297.1 L446.7,297.8 L447.5,298.5 L448.2,299.2 L449.0,299.9 L449.7,300.6 L450.5,301.3 L451.2,302.1 L452.0,302.8 L452.7,303.5 L453.5,304.2 L454.2,304.9 L455.0,305.5 L455.8,306.2 L456.6,306.8 L457.4,307.4 L458.2,308.1 L459.0,308.7 L459.8,309.3 L460.6,310.0 L461.4,310.6 L462.1,311.4 L462.7,312.1 L463.4,312.9 L464.0,313.6 L464.7,314.4 L465.4,315.2 L466.0,315.9 L466.7,316.7 L467.3,317.4 L468.0,318.2 L468.7,319.0 L469.3,319.7 L470.0,320.5 L470.6,321.2 L471.3,322.0 L472.0,322.8 L472.6,323.5 L473.3,324.3 L474.0,325.0 L474.7,325.8 L475.3,326.6 L476.0,327.3 L476.7,328.1 L477.3,328.8 L478.0,329.6 L478.7,330.3 L479.3,331.1 L480.0,331.9 L480.7,332.6 L481.4,333.4 L482.0,334.1 L482.7,334.9 L483.4,335.6 L484.1,336.3 L484.9,337.0 L485.6,337.7 L486.3,338.4 L487.0,339.2 L487.7,339.9 L488.5,340.6 L489.2,341.3 L489.9,342.0 L490.5,342.8 L491.1,343.6 L491.7,344.4 L492.4,345.2 L493.0,346.0 L493.6,346.8 L494.2,347.6 L494.8,348.4 L495.9,349.1 L497.0,349.8 L498.0,349.6 L499.0,349.3 L500.0,349.1 L500.4,350.1 L500.7,351.1 L501.1,352.1 L501.4,353.0 L501.8,354.0 L502.1,355.0 L502.7,355.8 L503.4,356.6 L504.0,357.4 L504.6,358.2 L505.3,358.9 L507.8,362.2 L510.1,368.9 L512.1,370.0 L514.2,370.3 L516.4,373.1 L518.5,375.3 L520.6,378.7 L522.8,381.0 L525.5,382.8 L527.5,383.8 L529.8,387.6 L532.0,390.9 L534.1,392.9 L536.3,392.9 L538.7,399.4 L541.0,399.4 L543.4,406.4 L545.8,404.7 L548.3,409.4 L550.5,409.8 L552.7,412.2 L555.1,417.8 L557.3,417.5 L559.5,421.2 L562.1,426.6 L564.2,425.0 L566.7,426.3 L569.2,433.8 L571.4,435.7 L573.5,433.8 L575.6,437.4 L577.8,438.1 L579.9,442.9 L582.8,447.2 L585.1,446.8 L588.1,453.6 L590.2,450.5 L592.4,453.1 L594.5,460.1 L596.7,460.6 L598.8,461.8 L601.1,465.0 L603.5,468.1 L605.5,470.0 L607.7,470.4 L610.1,475.7 L612.7,478.6 L615.5,481.0 L618.0,481.9 L620.3,483.0 L622.9,484.8 L625.2,486.4 L627.4,487.1 L630.2,486.6 L630.9,492.3" fill="none" stroke="#1a1a1a" stroke-width="1.1" stroke-linejoin="round"/>
</g>
<text x="14" y="282.5" font-size="15.3" fill="#000" stroke="#000" stroke-width="0.1" textLength="19" lengthAdjust="spacingAndGlyphs" style="">(b)</text>
<text x="346.5" y="282.8" font-size="15.3" fill="#000" stroke="#000" stroke-width="0.1" textLength="18.5" lengthAdjust="spacingAndGlyphs" style="">(c)</text>
<text font-size="14.5" fill="#000" stroke="#000" stroke-width="0.3" textLength="40.6" lengthAdjust="spacingAndGlyphs" transform="translate(11.2,392) rotate(-90)">Bz PSD</text>
<text font-size="14.5" fill="#000" stroke="#000" stroke-width="0.3" transform="translate(26.9,397.7) rotate(-90)"><tspan x="-0.9">[</tspan><tspan x="3.6">n</tspan><tspan x="11.1">T</tspan><tspan x="18.5" dy="-5.2" font-size="12.5">2</tspan><tspan x="25.1" dy="5.2">H</tspan><tspan x="34.6">z</tspan><tspan x="41.7" dy="-5.2" font-size="12.5">-</tspan><tspan x="45.6" font-size="12.5">1</tspan><tspan x="51.8" dy="5.2">]</tspan></text>
<text font-size="14.5" fill="#000" stroke="#000" stroke-width="0.3" textLength="40.6" lengthAdjust="spacingAndGlyphs" transform="translate(347.0,391.5) rotate(-90)">Bz PSD</text>
<text font-size="14.5" fill="#000" stroke="#000" stroke-width="0.3" transform="translate(362.8,396.5) rotate(-90)"><tspan x="-0.9">[</tspan><tspan x="3.6">n</tspan><tspan x="11.1">T</tspan><tspan x="18.5" dy="-5.2" font-size="12.5">2</tspan><tspan x="25.1" dy="5.2">H</tspan><tspan x="34.6">z</tspan><tspan x="41.7" dy="-5.2" font-size="12.5">-</tspan><tspan x="45.6" font-size="12.5">1</tspan><tspan x="51.8" dy="5.2">]</tspan></text>
<line x1="78.7" y1="453.2" x2="106.2" y2="453.2" stroke="#a8a8a8" stroke-width="1"/>
<line x1="78.7" y1="468.9" x2="106.2" y2="468.9" stroke="#aee2f7" stroke-width="1"/>
<line x1="78.7" y1="483.9" x2="106.2" y2="483.9" stroke="#fdc4a8" stroke-width="1"/>
<text x="114" y="457.0" font-size="12.8" fill="#000" stroke="#000" stroke-width="0.45" textLength="40" lengthAdjust="spacingAndGlyphs" style="">low cor</text>
<text x="114" y="472.7" font-size="12.8" fill="#1ab2ef" stroke="#1ab2ef" stroke-width="0.45" textLength="66" lengthAdjust="spacingAndGlyphs" style="">medium cor</text>
<text x="114" y="487.7" font-size="12.8" fill="#ff6620" stroke="#ff6620" stroke-width="0.45" textLength="45.3" lengthAdjust="spacingAndGlyphs" style="">high cor</text>
<line x1="414.4" y1="452.6" x2="441.9" y2="452.6" stroke="#a8a8a8" stroke-width="1"/>
<line x1="414.4" y1="467.9" x2="441.9" y2="467.9" stroke="#aee2f7" stroke-width="1"/>
<line x1="414.4" y1="483.2" x2="441.9" y2="483.2" stroke="#fdc4a8" stroke-width="1"/>
<text x="450" y="456.40000000000003" font-size="12.8" fill="#000" stroke="#000" stroke-width="0.45" textLength="40" lengthAdjust="spacingAndGlyphs" style="">low cor</text>
<text x="450" y="471.7" font-size="12.8" fill="#1ab2ef" stroke="#1ab2ef" stroke-width="0.45" textLength="66" lengthAdjust="spacingAndGlyphs" style="">medium cor</text>
<text x="450" y="487.0" font-size="12.8" fill="#ff6620" stroke="#ff6620" stroke-width="0.45" textLength="45.3" lengthAdjust="spacingAndGlyphs" style="">high cor</text>
<path d="M265.7,394.6 C265.1,393.3 262.1,392.8 262.1,395.6 L262.1,404.2 M260.3,396.8 L265.5,396.8" fill="none" stroke="#1a1a1a" stroke-width="1.5"/>
<path d="M268.3,394.4h2.2" stroke="#1a1a1a" stroke-width="1.1"/>
<text x="270.59999999999997" y="398.3" font-size="9.6" fill="#1a1a1a" stroke="#1a1a1a" stroke-width="0.25" textLength="23.6" lengthAdjust="spacingAndGlyphs" style="">1.497</text>
<path d="M265.7,409.3 C265.1,408.0 262.1,407.5 262.1,410.3 L262.1,418.9 M260.3,411.5 L265.5,411.5" fill="none" stroke="#1ab2ef" stroke-width="1.5"/>
<path d="M268.3,409.1h2.2" stroke="#1ab2ef" stroke-width="1.1"/>
<text x="270.59999999999997" y="413.0" font-size="9.6" fill="#1ab2ef" stroke="#1ab2ef" stroke-width="0.25" textLength="23.6" lengthAdjust="spacingAndGlyphs" style="">1.530</text>
<path d="M265.7,423.6 C265.1,422.3 262.1,421.8 262.1,424.6 L262.1,433.2 M260.3,425.8 L265.5,425.8" fill="none" stroke="#ff6620" stroke-width="1.5"/>
<path d="M268.3,423.4h2.2" stroke="#ff6620" stroke-width="1.1"/>
<text x="270.59999999999997" y="427.3" font-size="9.6" fill="#ff6620" stroke="#ff6620" stroke-width="0.25" textLength="23.6" lengthAdjust="spacingAndGlyphs" style="">1.624</text>
<path d="M601.6,393.3 C601.0,392.0 598.0,391.5 598.0,394.3 L598.0,402.9 M596.2,395.5 L601.4,395.5" fill="none" stroke="#1a1a1a" stroke-width="1.5"/>
<path d="M603.7,393.1h2.2" stroke="#1a1a1a" stroke-width="1.1"/>
<text x="606.0" y="397.0" font-size="9.6" fill="#1a1a1a" stroke="#1a1a1a" stroke-width="0.25" textLength="23.6" lengthAdjust="spacingAndGlyphs" style="">1.508</text>
<path d="M601.6,408.0 C601.0,406.7 598.0,406.2 598.0,409.0 L598.0,417.6 M596.2,410.2 L601.4,410.2" fill="none" stroke="#1ab2ef" stroke-width="1.5"/>
<path d="M603.7,407.8h2.2" stroke="#1ab2ef" stroke-width="1.1"/>
<text x="606.0" y="411.7" font-size="9.6" fill="#1ab2ef" stroke="#1ab2ef" stroke-width="0.25" textLength="23.6" lengthAdjust="spacingAndGlyphs" style="">1.546</text>
<path d="M601.6,421.8 C601.0,420.5 598.0,420.0 598.0,422.8 L598.0,431.4 M596.2,424.0 L601.4,424.0" fill="none" stroke="#ff6620" stroke-width="1.5"/>
<path d="M603.7,421.6h2.2" stroke="#ff6620" stroke-width="1.1"/>
<text x="606.0" y="425.5" font-size="9.6" fill="#ff6620" stroke="#ff6620" stroke-width="0.25" textLength="23.6" lengthAdjust="spacingAndGlyphs" style="">1.633</text>
</svg></body></html>
